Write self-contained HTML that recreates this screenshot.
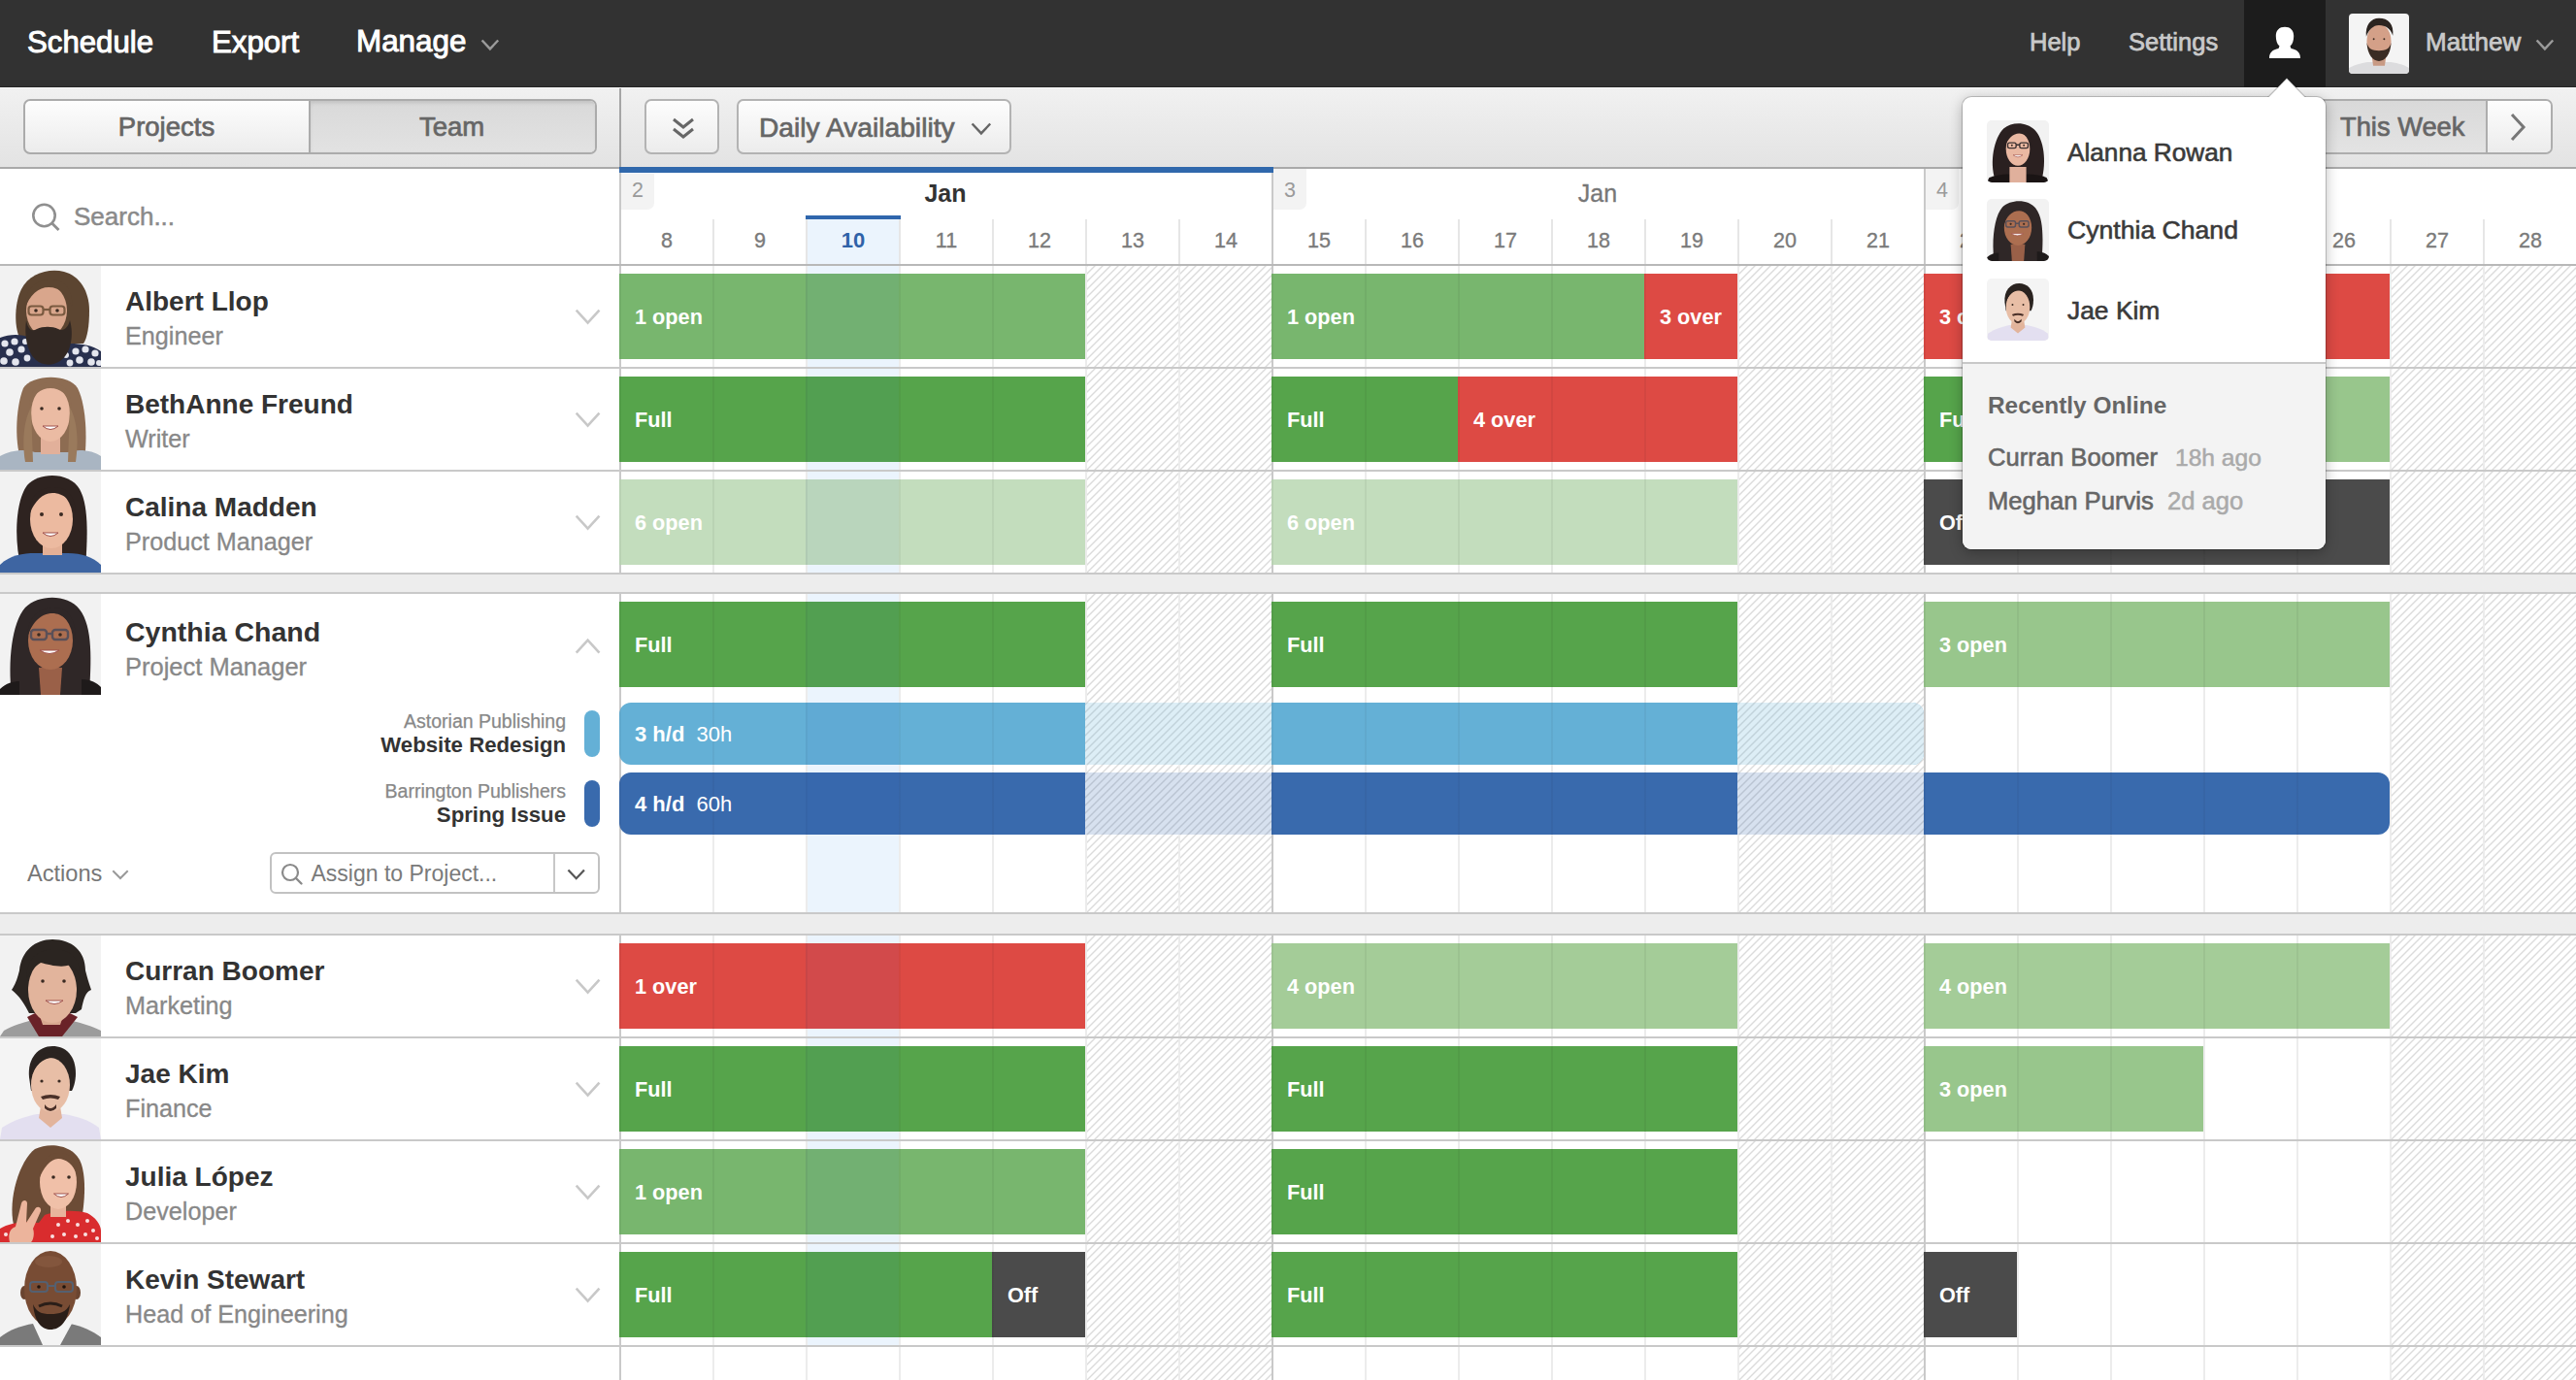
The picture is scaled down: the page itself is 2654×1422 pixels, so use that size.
<!DOCTYPE html><html><head><meta charset="utf-8"><style>
*{margin:0;padding:0;box-sizing:border-box}
html,body{width:2654px;height:1422px;overflow:hidden;background:#fff;font-family:"Liberation Sans",sans-serif}
.a{position:absolute}
.t{position:absolute;white-space:nowrap}
svg.a{overflow:visible}
</style></head><body>
<div class="a" style="left:0px;top:274px;width:638px;height:104px;background:#fff"></div>
<div class="a" style="left:830px;top:274px;width:96px;height:104px;background:#ebf4fd"></div>
<div class="a" style="left:1118px;top:274px;width:96px;height:104px;background-color:#fff;background-image:repeating-linear-gradient(-45deg,rgba(255,255,255,0) 0px,rgba(255,255,255,0) 3.3px,#dbdbdb 3.8px,#dbdbdb 4.7px,rgba(255,255,255,0) 5.2px,rgba(255,255,255,0) 5.657px);"></div>
<div class="a" style="left:1214px;top:274px;width:96px;height:104px;background-color:#fff;background-image:repeating-linear-gradient(-45deg,rgba(255,255,255,0) 0px,rgba(255,255,255,0) 3.3px,#dbdbdb 3.8px,#dbdbdb 4.7px,rgba(255,255,255,0) 5.2px,rgba(255,255,255,0) 5.657px);"></div>
<div class="a" style="left:1790px;top:274px;width:96px;height:104px;background-color:#fff;background-image:repeating-linear-gradient(-45deg,rgba(255,255,255,0) 0px,rgba(255,255,255,0) 3.3px,#dbdbdb 3.8px,#dbdbdb 4.7px,rgba(255,255,255,0) 5.2px,rgba(255,255,255,0) 5.657px);"></div>
<div class="a" style="left:1886px;top:274px;width:96px;height:104px;background-color:#fff;background-image:repeating-linear-gradient(-45deg,rgba(255,255,255,0) 0px,rgba(255,255,255,0) 3.3px,#dbdbdb 3.8px,#dbdbdb 4.7px,rgba(255,255,255,0) 5.2px,rgba(255,255,255,0) 5.657px);"></div>
<div class="a" style="left:2462px;top:274px;width:96px;height:104px;background-color:#fff;background-image:repeating-linear-gradient(-45deg,rgba(255,255,255,0) 0px,rgba(255,255,255,0) 3.3px,#dbdbdb 3.8px,#dbdbdb 4.7px,rgba(255,255,255,0) 5.2px,rgba(255,255,255,0) 5.657px);"></div>
<div class="a" style="left:2558px;top:274px;width:96px;height:104px;background-color:#fff;background-image:repeating-linear-gradient(-45deg,rgba(255,255,255,0) 0px,rgba(255,255,255,0) 3.3px,#dbdbdb 3.8px,#dbdbdb 4.7px,rgba(255,255,255,0) 5.2px,rgba(255,255,255,0) 5.657px);"></div>
<div class="a" style="left:734px;top:274px;width:2px;height:104px;background:#ececec"></div>
<div class="a" style="left:830px;top:274px;width:2px;height:104px;background:#ececec"></div>
<div class="a" style="left:926px;top:274px;width:2px;height:104px;background:#ececec"></div>
<div class="a" style="left:1022px;top:274px;width:2px;height:104px;background:#ececec"></div>
<div class="a" style="left:1118px;top:274px;width:2px;height:104px;background:#ececec"></div>
<div class="a" style="left:1214px;top:274px;width:2px;height:104px;background:#ececec"></div>
<div class="a" style="left:1406px;top:274px;width:2px;height:104px;background:#ececec"></div>
<div class="a" style="left:1502px;top:274px;width:2px;height:104px;background:#ececec"></div>
<div class="a" style="left:1598px;top:274px;width:2px;height:104px;background:#ececec"></div>
<div class="a" style="left:1694px;top:274px;width:2px;height:104px;background:#ececec"></div>
<div class="a" style="left:1790px;top:274px;width:2px;height:104px;background:#ececec"></div>
<div class="a" style="left:1886px;top:274px;width:2px;height:104px;background:#ececec"></div>
<div class="a" style="left:2078px;top:274px;width:2px;height:104px;background:#ececec"></div>
<div class="a" style="left:2174px;top:274px;width:2px;height:104px;background:#ececec"></div>
<div class="a" style="left:2270px;top:274px;width:2px;height:104px;background:#ececec"></div>
<div class="a" style="left:2366px;top:274px;width:2px;height:104px;background:#ececec"></div>
<div class="a" style="left:2462px;top:274px;width:2px;height:104px;background:#ececec"></div>
<div class="a" style="left:2558px;top:274px;width:2px;height:104px;background:#ececec"></div>
<div class="a" style="left:0px;top:378px;width:2654px;height:2px;background:#c9c9c9"></div>
<div class="a" style="left:0px;top:380px;width:638px;height:104px;background:#fff"></div>
<div class="a" style="left:830px;top:380px;width:96px;height:104px;background:#ebf4fd"></div>
<div class="a" style="left:1118px;top:380px;width:96px;height:104px;background-color:#fff;background-image:repeating-linear-gradient(-45deg,rgba(255,255,255,0) 0px,rgba(255,255,255,0) 3.3px,#dbdbdb 3.8px,#dbdbdb 4.7px,rgba(255,255,255,0) 5.2px,rgba(255,255,255,0) 5.657px);"></div>
<div class="a" style="left:1214px;top:380px;width:96px;height:104px;background-color:#fff;background-image:repeating-linear-gradient(-45deg,rgba(255,255,255,0) 0px,rgba(255,255,255,0) 3.3px,#dbdbdb 3.8px,#dbdbdb 4.7px,rgba(255,255,255,0) 5.2px,rgba(255,255,255,0) 5.657px);"></div>
<div class="a" style="left:1790px;top:380px;width:96px;height:104px;background-color:#fff;background-image:repeating-linear-gradient(-45deg,rgba(255,255,255,0) 0px,rgba(255,255,255,0) 3.3px,#dbdbdb 3.8px,#dbdbdb 4.7px,rgba(255,255,255,0) 5.2px,rgba(255,255,255,0) 5.657px);"></div>
<div class="a" style="left:1886px;top:380px;width:96px;height:104px;background-color:#fff;background-image:repeating-linear-gradient(-45deg,rgba(255,255,255,0) 0px,rgba(255,255,255,0) 3.3px,#dbdbdb 3.8px,#dbdbdb 4.7px,rgba(255,255,255,0) 5.2px,rgba(255,255,255,0) 5.657px);"></div>
<div class="a" style="left:2462px;top:380px;width:96px;height:104px;background-color:#fff;background-image:repeating-linear-gradient(-45deg,rgba(255,255,255,0) 0px,rgba(255,255,255,0) 3.3px,#dbdbdb 3.8px,#dbdbdb 4.7px,rgba(255,255,255,0) 5.2px,rgba(255,255,255,0) 5.657px);"></div>
<div class="a" style="left:2558px;top:380px;width:96px;height:104px;background-color:#fff;background-image:repeating-linear-gradient(-45deg,rgba(255,255,255,0) 0px,rgba(255,255,255,0) 3.3px,#dbdbdb 3.8px,#dbdbdb 4.7px,rgba(255,255,255,0) 5.2px,rgba(255,255,255,0) 5.657px);"></div>
<div class="a" style="left:734px;top:380px;width:2px;height:104px;background:#ececec"></div>
<div class="a" style="left:830px;top:380px;width:2px;height:104px;background:#ececec"></div>
<div class="a" style="left:926px;top:380px;width:2px;height:104px;background:#ececec"></div>
<div class="a" style="left:1022px;top:380px;width:2px;height:104px;background:#ececec"></div>
<div class="a" style="left:1118px;top:380px;width:2px;height:104px;background:#ececec"></div>
<div class="a" style="left:1214px;top:380px;width:2px;height:104px;background:#ececec"></div>
<div class="a" style="left:1406px;top:380px;width:2px;height:104px;background:#ececec"></div>
<div class="a" style="left:1502px;top:380px;width:2px;height:104px;background:#ececec"></div>
<div class="a" style="left:1598px;top:380px;width:2px;height:104px;background:#ececec"></div>
<div class="a" style="left:1694px;top:380px;width:2px;height:104px;background:#ececec"></div>
<div class="a" style="left:1790px;top:380px;width:2px;height:104px;background:#ececec"></div>
<div class="a" style="left:1886px;top:380px;width:2px;height:104px;background:#ececec"></div>
<div class="a" style="left:2078px;top:380px;width:2px;height:104px;background:#ececec"></div>
<div class="a" style="left:2174px;top:380px;width:2px;height:104px;background:#ececec"></div>
<div class="a" style="left:2270px;top:380px;width:2px;height:104px;background:#ececec"></div>
<div class="a" style="left:2366px;top:380px;width:2px;height:104px;background:#ececec"></div>
<div class="a" style="left:2462px;top:380px;width:2px;height:104px;background:#ececec"></div>
<div class="a" style="left:2558px;top:380px;width:2px;height:104px;background:#ececec"></div>
<div class="a" style="left:0px;top:484px;width:2654px;height:2px;background:#c9c9c9"></div>
<div class="a" style="left:0px;top:486px;width:638px;height:104px;background:#fff"></div>
<div class="a" style="left:830px;top:486px;width:96px;height:104px;background:#ebf4fd"></div>
<div class="a" style="left:1118px;top:486px;width:96px;height:104px;background-color:#fff;background-image:repeating-linear-gradient(-45deg,rgba(255,255,255,0) 0px,rgba(255,255,255,0) 3.3px,#dbdbdb 3.8px,#dbdbdb 4.7px,rgba(255,255,255,0) 5.2px,rgba(255,255,255,0) 5.657px);"></div>
<div class="a" style="left:1214px;top:486px;width:96px;height:104px;background-color:#fff;background-image:repeating-linear-gradient(-45deg,rgba(255,255,255,0) 0px,rgba(255,255,255,0) 3.3px,#dbdbdb 3.8px,#dbdbdb 4.7px,rgba(255,255,255,0) 5.2px,rgba(255,255,255,0) 5.657px);"></div>
<div class="a" style="left:1790px;top:486px;width:96px;height:104px;background-color:#fff;background-image:repeating-linear-gradient(-45deg,rgba(255,255,255,0) 0px,rgba(255,255,255,0) 3.3px,#dbdbdb 3.8px,#dbdbdb 4.7px,rgba(255,255,255,0) 5.2px,rgba(255,255,255,0) 5.657px);"></div>
<div class="a" style="left:1886px;top:486px;width:96px;height:104px;background-color:#fff;background-image:repeating-linear-gradient(-45deg,rgba(255,255,255,0) 0px,rgba(255,255,255,0) 3.3px,#dbdbdb 3.8px,#dbdbdb 4.7px,rgba(255,255,255,0) 5.2px,rgba(255,255,255,0) 5.657px);"></div>
<div class="a" style="left:2462px;top:486px;width:96px;height:104px;background-color:#fff;background-image:repeating-linear-gradient(-45deg,rgba(255,255,255,0) 0px,rgba(255,255,255,0) 3.3px,#dbdbdb 3.8px,#dbdbdb 4.7px,rgba(255,255,255,0) 5.2px,rgba(255,255,255,0) 5.657px);"></div>
<div class="a" style="left:2558px;top:486px;width:96px;height:104px;background-color:#fff;background-image:repeating-linear-gradient(-45deg,rgba(255,255,255,0) 0px,rgba(255,255,255,0) 3.3px,#dbdbdb 3.8px,#dbdbdb 4.7px,rgba(255,255,255,0) 5.2px,rgba(255,255,255,0) 5.657px);"></div>
<div class="a" style="left:734px;top:486px;width:2px;height:104px;background:#ececec"></div>
<div class="a" style="left:830px;top:486px;width:2px;height:104px;background:#ececec"></div>
<div class="a" style="left:926px;top:486px;width:2px;height:104px;background:#ececec"></div>
<div class="a" style="left:1022px;top:486px;width:2px;height:104px;background:#ececec"></div>
<div class="a" style="left:1118px;top:486px;width:2px;height:104px;background:#ececec"></div>
<div class="a" style="left:1214px;top:486px;width:2px;height:104px;background:#ececec"></div>
<div class="a" style="left:1406px;top:486px;width:2px;height:104px;background:#ececec"></div>
<div class="a" style="left:1502px;top:486px;width:2px;height:104px;background:#ececec"></div>
<div class="a" style="left:1598px;top:486px;width:2px;height:104px;background:#ececec"></div>
<div class="a" style="left:1694px;top:486px;width:2px;height:104px;background:#ececec"></div>
<div class="a" style="left:1790px;top:486px;width:2px;height:104px;background:#ececec"></div>
<div class="a" style="left:1886px;top:486px;width:2px;height:104px;background:#ececec"></div>
<div class="a" style="left:2078px;top:486px;width:2px;height:104px;background:#ececec"></div>
<div class="a" style="left:2174px;top:486px;width:2px;height:104px;background:#ececec"></div>
<div class="a" style="left:2270px;top:486px;width:2px;height:104px;background:#ececec"></div>
<div class="a" style="left:2366px;top:486px;width:2px;height:104px;background:#ececec"></div>
<div class="a" style="left:2462px;top:486px;width:2px;height:104px;background:#ececec"></div>
<div class="a" style="left:2558px;top:486px;width:2px;height:104px;background:#ececec"></div>
<div class="a" style="left:0px;top:590px;width:2654px;height:2px;background:#c9c9c9"></div>
<div class="a" style="left:0px;top:592px;width:2654px;height:18px;background:#ededed"></div>
<div class="a" style="left:0px;top:610px;width:2654px;height:2px;background:#c9c9c9"></div>
<div class="a" style="left:0px;top:612px;width:638px;height:328px;background:#fff"></div>
<div class="a" style="left:830px;top:612px;width:96px;height:328px;background:#ebf4fd"></div>
<div class="a" style="left:1118px;top:612px;width:96px;height:328px;background-color:#fff;background-image:repeating-linear-gradient(-45deg,rgba(255,255,255,0) 0px,rgba(255,255,255,0) 3.3px,#dbdbdb 3.8px,#dbdbdb 4.7px,rgba(255,255,255,0) 5.2px,rgba(255,255,255,0) 5.657px);"></div>
<div class="a" style="left:1214px;top:612px;width:96px;height:328px;background-color:#fff;background-image:repeating-linear-gradient(-45deg,rgba(255,255,255,0) 0px,rgba(255,255,255,0) 3.3px,#dbdbdb 3.8px,#dbdbdb 4.7px,rgba(255,255,255,0) 5.2px,rgba(255,255,255,0) 5.657px);"></div>
<div class="a" style="left:1790px;top:612px;width:96px;height:328px;background-color:#fff;background-image:repeating-linear-gradient(-45deg,rgba(255,255,255,0) 0px,rgba(255,255,255,0) 3.3px,#dbdbdb 3.8px,#dbdbdb 4.7px,rgba(255,255,255,0) 5.2px,rgba(255,255,255,0) 5.657px);"></div>
<div class="a" style="left:1886px;top:612px;width:96px;height:328px;background-color:#fff;background-image:repeating-linear-gradient(-45deg,rgba(255,255,255,0) 0px,rgba(255,255,255,0) 3.3px,#dbdbdb 3.8px,#dbdbdb 4.7px,rgba(255,255,255,0) 5.2px,rgba(255,255,255,0) 5.657px);"></div>
<div class="a" style="left:2462px;top:612px;width:96px;height:328px;background-color:#fff;background-image:repeating-linear-gradient(-45deg,rgba(255,255,255,0) 0px,rgba(255,255,255,0) 3.3px,#dbdbdb 3.8px,#dbdbdb 4.7px,rgba(255,255,255,0) 5.2px,rgba(255,255,255,0) 5.657px);"></div>
<div class="a" style="left:2558px;top:612px;width:96px;height:328px;background-color:#fff;background-image:repeating-linear-gradient(-45deg,rgba(255,255,255,0) 0px,rgba(255,255,255,0) 3.3px,#dbdbdb 3.8px,#dbdbdb 4.7px,rgba(255,255,255,0) 5.2px,rgba(255,255,255,0) 5.657px);"></div>
<div class="a" style="left:734px;top:612px;width:2px;height:328px;background:#ececec"></div>
<div class="a" style="left:830px;top:612px;width:2px;height:328px;background:#ececec"></div>
<div class="a" style="left:926px;top:612px;width:2px;height:328px;background:#ececec"></div>
<div class="a" style="left:1022px;top:612px;width:2px;height:328px;background:#ececec"></div>
<div class="a" style="left:1118px;top:612px;width:2px;height:328px;background:#ececec"></div>
<div class="a" style="left:1214px;top:612px;width:2px;height:328px;background:#ececec"></div>
<div class="a" style="left:1406px;top:612px;width:2px;height:328px;background:#ececec"></div>
<div class="a" style="left:1502px;top:612px;width:2px;height:328px;background:#ececec"></div>
<div class="a" style="left:1598px;top:612px;width:2px;height:328px;background:#ececec"></div>
<div class="a" style="left:1694px;top:612px;width:2px;height:328px;background:#ececec"></div>
<div class="a" style="left:1790px;top:612px;width:2px;height:328px;background:#ececec"></div>
<div class="a" style="left:1886px;top:612px;width:2px;height:328px;background:#ececec"></div>
<div class="a" style="left:2078px;top:612px;width:2px;height:328px;background:#ececec"></div>
<div class="a" style="left:2174px;top:612px;width:2px;height:328px;background:#ececec"></div>
<div class="a" style="left:2270px;top:612px;width:2px;height:328px;background:#ececec"></div>
<div class="a" style="left:2366px;top:612px;width:2px;height:328px;background:#ececec"></div>
<div class="a" style="left:2462px;top:612px;width:2px;height:328px;background:#ececec"></div>
<div class="a" style="left:2558px;top:612px;width:2px;height:328px;background:#ececec"></div>
<div class="a" style="left:0px;top:940px;width:2654px;height:2px;background:#c9c9c9"></div>
<div class="a" style="left:0px;top:942px;width:2654px;height:20px;background:#ededed"></div>
<div class="a" style="left:0px;top:962px;width:2654px;height:2px;background:#c9c9c9"></div>
<div class="a" style="left:0px;top:964px;width:638px;height:104px;background:#fff"></div>
<div class="a" style="left:830px;top:964px;width:96px;height:104px;background:#ebf4fd"></div>
<div class="a" style="left:1118px;top:964px;width:96px;height:104px;background-color:#fff;background-image:repeating-linear-gradient(-45deg,rgba(255,255,255,0) 0px,rgba(255,255,255,0) 3.3px,#dbdbdb 3.8px,#dbdbdb 4.7px,rgba(255,255,255,0) 5.2px,rgba(255,255,255,0) 5.657px);"></div>
<div class="a" style="left:1214px;top:964px;width:96px;height:104px;background-color:#fff;background-image:repeating-linear-gradient(-45deg,rgba(255,255,255,0) 0px,rgba(255,255,255,0) 3.3px,#dbdbdb 3.8px,#dbdbdb 4.7px,rgba(255,255,255,0) 5.2px,rgba(255,255,255,0) 5.657px);"></div>
<div class="a" style="left:1790px;top:964px;width:96px;height:104px;background-color:#fff;background-image:repeating-linear-gradient(-45deg,rgba(255,255,255,0) 0px,rgba(255,255,255,0) 3.3px,#dbdbdb 3.8px,#dbdbdb 4.7px,rgba(255,255,255,0) 5.2px,rgba(255,255,255,0) 5.657px);"></div>
<div class="a" style="left:1886px;top:964px;width:96px;height:104px;background-color:#fff;background-image:repeating-linear-gradient(-45deg,rgba(255,255,255,0) 0px,rgba(255,255,255,0) 3.3px,#dbdbdb 3.8px,#dbdbdb 4.7px,rgba(255,255,255,0) 5.2px,rgba(255,255,255,0) 5.657px);"></div>
<div class="a" style="left:2462px;top:964px;width:96px;height:104px;background-color:#fff;background-image:repeating-linear-gradient(-45deg,rgba(255,255,255,0) 0px,rgba(255,255,255,0) 3.3px,#dbdbdb 3.8px,#dbdbdb 4.7px,rgba(255,255,255,0) 5.2px,rgba(255,255,255,0) 5.657px);"></div>
<div class="a" style="left:2558px;top:964px;width:96px;height:104px;background-color:#fff;background-image:repeating-linear-gradient(-45deg,rgba(255,255,255,0) 0px,rgba(255,255,255,0) 3.3px,#dbdbdb 3.8px,#dbdbdb 4.7px,rgba(255,255,255,0) 5.2px,rgba(255,255,255,0) 5.657px);"></div>
<div class="a" style="left:734px;top:964px;width:2px;height:104px;background:#ececec"></div>
<div class="a" style="left:830px;top:964px;width:2px;height:104px;background:#ececec"></div>
<div class="a" style="left:926px;top:964px;width:2px;height:104px;background:#ececec"></div>
<div class="a" style="left:1022px;top:964px;width:2px;height:104px;background:#ececec"></div>
<div class="a" style="left:1118px;top:964px;width:2px;height:104px;background:#ececec"></div>
<div class="a" style="left:1214px;top:964px;width:2px;height:104px;background:#ececec"></div>
<div class="a" style="left:1406px;top:964px;width:2px;height:104px;background:#ececec"></div>
<div class="a" style="left:1502px;top:964px;width:2px;height:104px;background:#ececec"></div>
<div class="a" style="left:1598px;top:964px;width:2px;height:104px;background:#ececec"></div>
<div class="a" style="left:1694px;top:964px;width:2px;height:104px;background:#ececec"></div>
<div class="a" style="left:1790px;top:964px;width:2px;height:104px;background:#ececec"></div>
<div class="a" style="left:1886px;top:964px;width:2px;height:104px;background:#ececec"></div>
<div class="a" style="left:2078px;top:964px;width:2px;height:104px;background:#ececec"></div>
<div class="a" style="left:2174px;top:964px;width:2px;height:104px;background:#ececec"></div>
<div class="a" style="left:2270px;top:964px;width:2px;height:104px;background:#ececec"></div>
<div class="a" style="left:2366px;top:964px;width:2px;height:104px;background:#ececec"></div>
<div class="a" style="left:2462px;top:964px;width:2px;height:104px;background:#ececec"></div>
<div class="a" style="left:2558px;top:964px;width:2px;height:104px;background:#ececec"></div>
<div class="a" style="left:0px;top:1068px;width:2654px;height:2px;background:#c9c9c9"></div>
<div class="a" style="left:0px;top:1070px;width:638px;height:104px;background:#fff"></div>
<div class="a" style="left:830px;top:1070px;width:96px;height:104px;background:#ebf4fd"></div>
<div class="a" style="left:1118px;top:1070px;width:96px;height:104px;background-color:#fff;background-image:repeating-linear-gradient(-45deg,rgba(255,255,255,0) 0px,rgba(255,255,255,0) 3.3px,#dbdbdb 3.8px,#dbdbdb 4.7px,rgba(255,255,255,0) 5.2px,rgba(255,255,255,0) 5.657px);"></div>
<div class="a" style="left:1214px;top:1070px;width:96px;height:104px;background-color:#fff;background-image:repeating-linear-gradient(-45deg,rgba(255,255,255,0) 0px,rgba(255,255,255,0) 3.3px,#dbdbdb 3.8px,#dbdbdb 4.7px,rgba(255,255,255,0) 5.2px,rgba(255,255,255,0) 5.657px);"></div>
<div class="a" style="left:1790px;top:1070px;width:96px;height:104px;background-color:#fff;background-image:repeating-linear-gradient(-45deg,rgba(255,255,255,0) 0px,rgba(255,255,255,0) 3.3px,#dbdbdb 3.8px,#dbdbdb 4.7px,rgba(255,255,255,0) 5.2px,rgba(255,255,255,0) 5.657px);"></div>
<div class="a" style="left:1886px;top:1070px;width:96px;height:104px;background-color:#fff;background-image:repeating-linear-gradient(-45deg,rgba(255,255,255,0) 0px,rgba(255,255,255,0) 3.3px,#dbdbdb 3.8px,#dbdbdb 4.7px,rgba(255,255,255,0) 5.2px,rgba(255,255,255,0) 5.657px);"></div>
<div class="a" style="left:2462px;top:1070px;width:96px;height:104px;background-color:#fff;background-image:repeating-linear-gradient(-45deg,rgba(255,255,255,0) 0px,rgba(255,255,255,0) 3.3px,#dbdbdb 3.8px,#dbdbdb 4.7px,rgba(255,255,255,0) 5.2px,rgba(255,255,255,0) 5.657px);"></div>
<div class="a" style="left:2558px;top:1070px;width:96px;height:104px;background-color:#fff;background-image:repeating-linear-gradient(-45deg,rgba(255,255,255,0) 0px,rgba(255,255,255,0) 3.3px,#dbdbdb 3.8px,#dbdbdb 4.7px,rgba(255,255,255,0) 5.2px,rgba(255,255,255,0) 5.657px);"></div>
<div class="a" style="left:734px;top:1070px;width:2px;height:104px;background:#ececec"></div>
<div class="a" style="left:830px;top:1070px;width:2px;height:104px;background:#ececec"></div>
<div class="a" style="left:926px;top:1070px;width:2px;height:104px;background:#ececec"></div>
<div class="a" style="left:1022px;top:1070px;width:2px;height:104px;background:#ececec"></div>
<div class="a" style="left:1118px;top:1070px;width:2px;height:104px;background:#ececec"></div>
<div class="a" style="left:1214px;top:1070px;width:2px;height:104px;background:#ececec"></div>
<div class="a" style="left:1406px;top:1070px;width:2px;height:104px;background:#ececec"></div>
<div class="a" style="left:1502px;top:1070px;width:2px;height:104px;background:#ececec"></div>
<div class="a" style="left:1598px;top:1070px;width:2px;height:104px;background:#ececec"></div>
<div class="a" style="left:1694px;top:1070px;width:2px;height:104px;background:#ececec"></div>
<div class="a" style="left:1790px;top:1070px;width:2px;height:104px;background:#ececec"></div>
<div class="a" style="left:1886px;top:1070px;width:2px;height:104px;background:#ececec"></div>
<div class="a" style="left:2078px;top:1070px;width:2px;height:104px;background:#ececec"></div>
<div class="a" style="left:2174px;top:1070px;width:2px;height:104px;background:#ececec"></div>
<div class="a" style="left:2270px;top:1070px;width:2px;height:104px;background:#ececec"></div>
<div class="a" style="left:2366px;top:1070px;width:2px;height:104px;background:#ececec"></div>
<div class="a" style="left:2462px;top:1070px;width:2px;height:104px;background:#ececec"></div>
<div class="a" style="left:2558px;top:1070px;width:2px;height:104px;background:#ececec"></div>
<div class="a" style="left:0px;top:1174px;width:2654px;height:2px;background:#c9c9c9"></div>
<div class="a" style="left:0px;top:1176px;width:638px;height:104px;background:#fff"></div>
<div class="a" style="left:830px;top:1176px;width:96px;height:104px;background:#ebf4fd"></div>
<div class="a" style="left:1118px;top:1176px;width:96px;height:104px;background-color:#fff;background-image:repeating-linear-gradient(-45deg,rgba(255,255,255,0) 0px,rgba(255,255,255,0) 3.3px,#dbdbdb 3.8px,#dbdbdb 4.7px,rgba(255,255,255,0) 5.2px,rgba(255,255,255,0) 5.657px);"></div>
<div class="a" style="left:1214px;top:1176px;width:96px;height:104px;background-color:#fff;background-image:repeating-linear-gradient(-45deg,rgba(255,255,255,0) 0px,rgba(255,255,255,0) 3.3px,#dbdbdb 3.8px,#dbdbdb 4.7px,rgba(255,255,255,0) 5.2px,rgba(255,255,255,0) 5.657px);"></div>
<div class="a" style="left:1790px;top:1176px;width:96px;height:104px;background-color:#fff;background-image:repeating-linear-gradient(-45deg,rgba(255,255,255,0) 0px,rgba(255,255,255,0) 3.3px,#dbdbdb 3.8px,#dbdbdb 4.7px,rgba(255,255,255,0) 5.2px,rgba(255,255,255,0) 5.657px);"></div>
<div class="a" style="left:1886px;top:1176px;width:96px;height:104px;background-color:#fff;background-image:repeating-linear-gradient(-45deg,rgba(255,255,255,0) 0px,rgba(255,255,255,0) 3.3px,#dbdbdb 3.8px,#dbdbdb 4.7px,rgba(255,255,255,0) 5.2px,rgba(255,255,255,0) 5.657px);"></div>
<div class="a" style="left:2462px;top:1176px;width:96px;height:104px;background-color:#fff;background-image:repeating-linear-gradient(-45deg,rgba(255,255,255,0) 0px,rgba(255,255,255,0) 3.3px,#dbdbdb 3.8px,#dbdbdb 4.7px,rgba(255,255,255,0) 5.2px,rgba(255,255,255,0) 5.657px);"></div>
<div class="a" style="left:2558px;top:1176px;width:96px;height:104px;background-color:#fff;background-image:repeating-linear-gradient(-45deg,rgba(255,255,255,0) 0px,rgba(255,255,255,0) 3.3px,#dbdbdb 3.8px,#dbdbdb 4.7px,rgba(255,255,255,0) 5.2px,rgba(255,255,255,0) 5.657px);"></div>
<div class="a" style="left:734px;top:1176px;width:2px;height:104px;background:#ececec"></div>
<div class="a" style="left:830px;top:1176px;width:2px;height:104px;background:#ececec"></div>
<div class="a" style="left:926px;top:1176px;width:2px;height:104px;background:#ececec"></div>
<div class="a" style="left:1022px;top:1176px;width:2px;height:104px;background:#ececec"></div>
<div class="a" style="left:1118px;top:1176px;width:2px;height:104px;background:#ececec"></div>
<div class="a" style="left:1214px;top:1176px;width:2px;height:104px;background:#ececec"></div>
<div class="a" style="left:1406px;top:1176px;width:2px;height:104px;background:#ececec"></div>
<div class="a" style="left:1502px;top:1176px;width:2px;height:104px;background:#ececec"></div>
<div class="a" style="left:1598px;top:1176px;width:2px;height:104px;background:#ececec"></div>
<div class="a" style="left:1694px;top:1176px;width:2px;height:104px;background:#ececec"></div>
<div class="a" style="left:1790px;top:1176px;width:2px;height:104px;background:#ececec"></div>
<div class="a" style="left:1886px;top:1176px;width:2px;height:104px;background:#ececec"></div>
<div class="a" style="left:2078px;top:1176px;width:2px;height:104px;background:#ececec"></div>
<div class="a" style="left:2174px;top:1176px;width:2px;height:104px;background:#ececec"></div>
<div class="a" style="left:2270px;top:1176px;width:2px;height:104px;background:#ececec"></div>
<div class="a" style="left:2366px;top:1176px;width:2px;height:104px;background:#ececec"></div>
<div class="a" style="left:2462px;top:1176px;width:2px;height:104px;background:#ececec"></div>
<div class="a" style="left:2558px;top:1176px;width:2px;height:104px;background:#ececec"></div>
<div class="a" style="left:0px;top:1280px;width:2654px;height:2px;background:#c9c9c9"></div>
<div class="a" style="left:0px;top:1282px;width:638px;height:104px;background:#fff"></div>
<div class="a" style="left:830px;top:1282px;width:96px;height:104px;background:#ebf4fd"></div>
<div class="a" style="left:1118px;top:1282px;width:96px;height:104px;background-color:#fff;background-image:repeating-linear-gradient(-45deg,rgba(255,255,255,0) 0px,rgba(255,255,255,0) 3.3px,#dbdbdb 3.8px,#dbdbdb 4.7px,rgba(255,255,255,0) 5.2px,rgba(255,255,255,0) 5.657px);"></div>
<div class="a" style="left:1214px;top:1282px;width:96px;height:104px;background-color:#fff;background-image:repeating-linear-gradient(-45deg,rgba(255,255,255,0) 0px,rgba(255,255,255,0) 3.3px,#dbdbdb 3.8px,#dbdbdb 4.7px,rgba(255,255,255,0) 5.2px,rgba(255,255,255,0) 5.657px);"></div>
<div class="a" style="left:1790px;top:1282px;width:96px;height:104px;background-color:#fff;background-image:repeating-linear-gradient(-45deg,rgba(255,255,255,0) 0px,rgba(255,255,255,0) 3.3px,#dbdbdb 3.8px,#dbdbdb 4.7px,rgba(255,255,255,0) 5.2px,rgba(255,255,255,0) 5.657px);"></div>
<div class="a" style="left:1886px;top:1282px;width:96px;height:104px;background-color:#fff;background-image:repeating-linear-gradient(-45deg,rgba(255,255,255,0) 0px,rgba(255,255,255,0) 3.3px,#dbdbdb 3.8px,#dbdbdb 4.7px,rgba(255,255,255,0) 5.2px,rgba(255,255,255,0) 5.657px);"></div>
<div class="a" style="left:2462px;top:1282px;width:96px;height:104px;background-color:#fff;background-image:repeating-linear-gradient(-45deg,rgba(255,255,255,0) 0px,rgba(255,255,255,0) 3.3px,#dbdbdb 3.8px,#dbdbdb 4.7px,rgba(255,255,255,0) 5.2px,rgba(255,255,255,0) 5.657px);"></div>
<div class="a" style="left:2558px;top:1282px;width:96px;height:104px;background-color:#fff;background-image:repeating-linear-gradient(-45deg,rgba(255,255,255,0) 0px,rgba(255,255,255,0) 3.3px,#dbdbdb 3.8px,#dbdbdb 4.7px,rgba(255,255,255,0) 5.2px,rgba(255,255,255,0) 5.657px);"></div>
<div class="a" style="left:734px;top:1282px;width:2px;height:104px;background:#ececec"></div>
<div class="a" style="left:830px;top:1282px;width:2px;height:104px;background:#ececec"></div>
<div class="a" style="left:926px;top:1282px;width:2px;height:104px;background:#ececec"></div>
<div class="a" style="left:1022px;top:1282px;width:2px;height:104px;background:#ececec"></div>
<div class="a" style="left:1118px;top:1282px;width:2px;height:104px;background:#ececec"></div>
<div class="a" style="left:1214px;top:1282px;width:2px;height:104px;background:#ececec"></div>
<div class="a" style="left:1406px;top:1282px;width:2px;height:104px;background:#ececec"></div>
<div class="a" style="left:1502px;top:1282px;width:2px;height:104px;background:#ececec"></div>
<div class="a" style="left:1598px;top:1282px;width:2px;height:104px;background:#ececec"></div>
<div class="a" style="left:1694px;top:1282px;width:2px;height:104px;background:#ececec"></div>
<div class="a" style="left:1790px;top:1282px;width:2px;height:104px;background:#ececec"></div>
<div class="a" style="left:1886px;top:1282px;width:2px;height:104px;background:#ececec"></div>
<div class="a" style="left:2078px;top:1282px;width:2px;height:104px;background:#ececec"></div>
<div class="a" style="left:2174px;top:1282px;width:2px;height:104px;background:#ececec"></div>
<div class="a" style="left:2270px;top:1282px;width:2px;height:104px;background:#ececec"></div>
<div class="a" style="left:2366px;top:1282px;width:2px;height:104px;background:#ececec"></div>
<div class="a" style="left:2462px;top:1282px;width:2px;height:104px;background:#ececec"></div>
<div class="a" style="left:2558px;top:1282px;width:2px;height:104px;background:#ececec"></div>
<div class="a" style="left:0px;top:1386px;width:2654px;height:2px;background:#c9c9c9"></div>
<div class="a" style="left:0px;top:1388px;width:638px;height:34px;background:#fff"></div>
<div class="a" style="left:1118px;top:1388px;width:96px;height:34px;background-color:#fff;background-image:repeating-linear-gradient(-45deg,rgba(255,255,255,0) 0px,rgba(255,255,255,0) 3.3px,#dbdbdb 3.8px,#dbdbdb 4.7px,rgba(255,255,255,0) 5.2px,rgba(255,255,255,0) 5.657px);"></div>
<div class="a" style="left:1214px;top:1388px;width:96px;height:34px;background-color:#fff;background-image:repeating-linear-gradient(-45deg,rgba(255,255,255,0) 0px,rgba(255,255,255,0) 3.3px,#dbdbdb 3.8px,#dbdbdb 4.7px,rgba(255,255,255,0) 5.2px,rgba(255,255,255,0) 5.657px);"></div>
<div class="a" style="left:1790px;top:1388px;width:96px;height:34px;background-color:#fff;background-image:repeating-linear-gradient(-45deg,rgba(255,255,255,0) 0px,rgba(255,255,255,0) 3.3px,#dbdbdb 3.8px,#dbdbdb 4.7px,rgba(255,255,255,0) 5.2px,rgba(255,255,255,0) 5.657px);"></div>
<div class="a" style="left:1886px;top:1388px;width:96px;height:34px;background-color:#fff;background-image:repeating-linear-gradient(-45deg,rgba(255,255,255,0) 0px,rgba(255,255,255,0) 3.3px,#dbdbdb 3.8px,#dbdbdb 4.7px,rgba(255,255,255,0) 5.2px,rgba(255,255,255,0) 5.657px);"></div>
<div class="a" style="left:2462px;top:1388px;width:96px;height:34px;background-color:#fff;background-image:repeating-linear-gradient(-45deg,rgba(255,255,255,0) 0px,rgba(255,255,255,0) 3.3px,#dbdbdb 3.8px,#dbdbdb 4.7px,rgba(255,255,255,0) 5.2px,rgba(255,255,255,0) 5.657px);"></div>
<div class="a" style="left:2558px;top:1388px;width:96px;height:34px;background-color:#fff;background-image:repeating-linear-gradient(-45deg,rgba(255,255,255,0) 0px,rgba(255,255,255,0) 3.3px,#dbdbdb 3.8px,#dbdbdb 4.7px,rgba(255,255,255,0) 5.2px,rgba(255,255,255,0) 5.657px);"></div>
<div class="a" style="left:734px;top:1388px;width:2px;height:34px;background:#ececec"></div>
<div class="a" style="left:830px;top:1388px;width:2px;height:34px;background:#ececec"></div>
<div class="a" style="left:926px;top:1388px;width:2px;height:34px;background:#ececec"></div>
<div class="a" style="left:1022px;top:1388px;width:2px;height:34px;background:#ececec"></div>
<div class="a" style="left:1118px;top:1388px;width:2px;height:34px;background:#ececec"></div>
<div class="a" style="left:1214px;top:1388px;width:2px;height:34px;background:#ececec"></div>
<div class="a" style="left:1406px;top:1388px;width:2px;height:34px;background:#ececec"></div>
<div class="a" style="left:1502px;top:1388px;width:2px;height:34px;background:#ececec"></div>
<div class="a" style="left:1598px;top:1388px;width:2px;height:34px;background:#ececec"></div>
<div class="a" style="left:1694px;top:1388px;width:2px;height:34px;background:#ececec"></div>
<div class="a" style="left:1790px;top:1388px;width:2px;height:34px;background:#ececec"></div>
<div class="a" style="left:1886px;top:1388px;width:2px;height:34px;background:#ececec"></div>
<div class="a" style="left:2078px;top:1388px;width:2px;height:34px;background:#ececec"></div>
<div class="a" style="left:2174px;top:1388px;width:2px;height:34px;background:#ececec"></div>
<div class="a" style="left:2270px;top:1388px;width:2px;height:34px;background:#ececec"></div>
<div class="a" style="left:2366px;top:1388px;width:2px;height:34px;background:#ececec"></div>
<div class="a" style="left:2462px;top:1388px;width:2px;height:34px;background:#ececec"></div>
<div class="a" style="left:2558px;top:1388px;width:2px;height:34px;background:#ececec"></div>
<div class="a" style="left:1310px;top:274px;width:2px;height:104px;background:#c9c9c9"></div>
<div class="a" style="left:1982px;top:274px;width:2px;height:104px;background:#c9c9c9"></div>
<div class="a" style="left:638px;top:274px;width:2px;height:104px;background:#c9c9c9"></div>
<div class="a" style="left:1310px;top:380px;width:2px;height:104px;background:#c9c9c9"></div>
<div class="a" style="left:1982px;top:380px;width:2px;height:104px;background:#c9c9c9"></div>
<div class="a" style="left:638px;top:380px;width:2px;height:104px;background:#c9c9c9"></div>
<div class="a" style="left:1310px;top:486px;width:2px;height:104px;background:#c9c9c9"></div>
<div class="a" style="left:1982px;top:486px;width:2px;height:104px;background:#c9c9c9"></div>
<div class="a" style="left:638px;top:486px;width:2px;height:104px;background:#c9c9c9"></div>
<div class="a" style="left:1310px;top:612px;width:2px;height:328px;background:#c9c9c9"></div>
<div class="a" style="left:1982px;top:612px;width:2px;height:328px;background:#c9c9c9"></div>
<div class="a" style="left:638px;top:612px;width:2px;height:328px;background:#c9c9c9"></div>
<div class="a" style="left:1310px;top:964px;width:2px;height:104px;background:#c9c9c9"></div>
<div class="a" style="left:1982px;top:964px;width:2px;height:104px;background:#c9c9c9"></div>
<div class="a" style="left:638px;top:964px;width:2px;height:104px;background:#c9c9c9"></div>
<div class="a" style="left:1310px;top:1070px;width:2px;height:104px;background:#c9c9c9"></div>
<div class="a" style="left:1982px;top:1070px;width:2px;height:104px;background:#c9c9c9"></div>
<div class="a" style="left:638px;top:1070px;width:2px;height:104px;background:#c9c9c9"></div>
<div class="a" style="left:1310px;top:1176px;width:2px;height:104px;background:#c9c9c9"></div>
<div class="a" style="left:1982px;top:1176px;width:2px;height:104px;background:#c9c9c9"></div>
<div class="a" style="left:638px;top:1176px;width:2px;height:104px;background:#c9c9c9"></div>
<div class="a" style="left:1310px;top:1282px;width:2px;height:104px;background:#c9c9c9"></div>
<div class="a" style="left:1982px;top:1282px;width:2px;height:104px;background:#c9c9c9"></div>
<div class="a" style="left:638px;top:1282px;width:2px;height:104px;background:#c9c9c9"></div>
<div class="a" style="left:1310px;top:1388px;width:2px;height:34px;background:#c9c9c9"></div>
<div class="a" style="left:1982px;top:1388px;width:2px;height:34px;background:#c9c9c9"></div>
<div class="a" style="left:638px;top:1388px;width:2px;height:34px;background:#c9c9c9"></div>
<div class="a" style="left:638px;top:282px;width:480px;height:88px;background:#78b66e;background-image:repeating-linear-gradient(90deg,rgba(0,0,0,0.05) 0 2px,rgba(0,0,0,0) 2px 96px)"><div class="a" style="left:192px;top:0;width:96px;height:88px;background:rgba(40,90,190,0.06)"></div></div>
<div class="t" style="left:654.0px;top:315.6px;font-size:21.7px;line-height:21.7px;color:#fff;font-weight:700;">1 open</div>
<div class="a" style="left:1310px;top:282px;width:384px;height:88px;background:#78b66e;background-image:repeating-linear-gradient(90deg,rgba(0,0,0,0.05) 0 2px,rgba(0,0,0,0) 2px 96px)"></div>
<div class="t" style="left:1326.0px;top:315.6px;font-size:21.7px;line-height:21.7px;color:#fff;font-weight:700;">1 open</div>
<div class="a" style="left:1694px;top:282px;width:96px;height:88px;background:#dd4a44;background-image:repeating-linear-gradient(90deg,rgba(0,0,0,0.05) 0 2px,rgba(0,0,0,0) 2px 96px)"></div>
<div class="t" style="left:1710.0px;top:315.6px;font-size:21.7px;line-height:21.7px;color:#fff;font-weight:700;">3 over</div>
<div class="a" style="left:1982px;top:282px;width:480px;height:88px;background:#dd4a44;background-image:repeating-linear-gradient(90deg,rgba(0,0,0,0.05) 0 2px,rgba(0,0,0,0) 2px 96px)"></div>
<div class="t" style="left:1998.0px;top:315.6px;font-size:21.7px;line-height:21.7px;color:#fff;font-weight:700;">3 over</div>
<div class="a" style="left:638px;top:388px;width:480px;height:88px;background:#56a44b;background-image:repeating-linear-gradient(90deg,rgba(0,0,0,0.05) 0 2px,rgba(0,0,0,0) 2px 96px)"><div class="a" style="left:192px;top:0;width:96px;height:88px;background:rgba(40,90,190,0.06)"></div></div>
<div class="t" style="left:654.0px;top:421.6px;font-size:21.7px;line-height:21.7px;color:#fff;font-weight:700;">Full</div>
<div class="a" style="left:1310px;top:388px;width:192px;height:88px;background:#56a44b;background-image:repeating-linear-gradient(90deg,rgba(0,0,0,0.05) 0 2px,rgba(0,0,0,0) 2px 96px)"></div>
<div class="t" style="left:1326.0px;top:421.6px;font-size:21.7px;line-height:21.7px;color:#fff;font-weight:700;">Full</div>
<div class="a" style="left:1502px;top:388px;width:288px;height:88px;background:#dd4a44;background-image:repeating-linear-gradient(90deg,rgba(0,0,0,0.05) 0 2px,rgba(0,0,0,0) 2px 96px)"></div>
<div class="t" style="left:1518.0px;top:421.6px;font-size:21.7px;line-height:21.7px;color:#fff;font-weight:700;">4 over</div>
<div class="a" style="left:1982px;top:388px;width:384px;height:88px;background:#56a44b;background-image:repeating-linear-gradient(90deg,rgba(0,0,0,0.05) 0 2px,rgba(0,0,0,0) 2px 96px)"></div>
<div class="t" style="left:1998.0px;top:421.6px;font-size:21.7px;line-height:21.7px;color:#fff;font-weight:700;">Full</div>
<div class="a" style="left:2366px;top:388px;width:96px;height:88px;background:#98c68c;background-image:repeating-linear-gradient(90deg,rgba(0,0,0,0.05) 0 2px,rgba(0,0,0,0) 2px 96px)"></div>
<div class="a" style="left:638px;top:494px;width:480px;height:88px;background:#c3ddbd;background-image:repeating-linear-gradient(90deg,rgba(0,0,0,0.05) 0 2px,rgba(0,0,0,0) 2px 96px)"><div class="a" style="left:192px;top:0;width:96px;height:88px;background:rgba(40,90,190,0.06)"></div></div>
<div class="t" style="left:654.0px;top:527.6px;font-size:21.7px;line-height:21.7px;color:#fff;font-weight:700;">6 open</div>
<div class="a" style="left:1310px;top:494px;width:480px;height:88px;background:#c3ddbd;background-image:repeating-linear-gradient(90deg,rgba(0,0,0,0.05) 0 2px,rgba(0,0,0,0) 2px 96px)"></div>
<div class="t" style="left:1326.0px;top:527.6px;font-size:21.7px;line-height:21.7px;color:#fff;font-weight:700;">6 open</div>
<div class="a" style="left:1982px;top:494px;width:480px;height:88px;background:#4b4b4b;background-image:repeating-linear-gradient(90deg,rgba(0,0,0,0.05) 0 2px,rgba(0,0,0,0) 2px 96px)"></div>
<div class="t" style="left:1998.0px;top:527.6px;font-size:21.7px;line-height:21.7px;color:#fff;font-weight:700;">Off</div>
<div class="a" style="left:638px;top:620px;width:480px;height:88px;background:#56a44b;background-image:repeating-linear-gradient(90deg,rgba(0,0,0,0.05) 0 2px,rgba(0,0,0,0) 2px 96px)"><div class="a" style="left:192px;top:0;width:96px;height:88px;background:rgba(40,90,190,0.06)"></div></div>
<div class="t" style="left:654.0px;top:653.6px;font-size:21.7px;line-height:21.7px;color:#fff;font-weight:700;">Full</div>
<div class="a" style="left:1310px;top:620px;width:480px;height:88px;background:#56a44b;background-image:repeating-linear-gradient(90deg,rgba(0,0,0,0.05) 0 2px,rgba(0,0,0,0) 2px 96px)"></div>
<div class="t" style="left:1326.0px;top:653.6px;font-size:21.7px;line-height:21.7px;color:#fff;font-weight:700;">Full</div>
<div class="a" style="left:1982px;top:620px;width:480px;height:88px;background:#98c68c;background-image:repeating-linear-gradient(90deg,rgba(0,0,0,0.05) 0 2px,rgba(0,0,0,0) 2px 96px)"></div>
<div class="t" style="left:1998.0px;top:653.6px;font-size:21.7px;line-height:21.7px;color:#fff;font-weight:700;">3 open</div>
<div class="a" style="left:638px;top:972px;width:480px;height:88px;background:#dd4a44;background-image:repeating-linear-gradient(90deg,rgba(0,0,0,0.05) 0 2px,rgba(0,0,0,0) 2px 96px)"><div class="a" style="left:192px;top:0;width:96px;height:88px;background:rgba(40,90,190,0.06)"></div></div>
<div class="t" style="left:654.0px;top:1005.6px;font-size:21.7px;line-height:21.7px;color:#fff;font-weight:700;">1 over</div>
<div class="a" style="left:1310px;top:972px;width:480px;height:88px;background:#a4cc98;background-image:repeating-linear-gradient(90deg,rgba(0,0,0,0.05) 0 2px,rgba(0,0,0,0) 2px 96px)"></div>
<div class="t" style="left:1326.0px;top:1005.6px;font-size:21.7px;line-height:21.7px;color:#fff;font-weight:700;">4 open</div>
<div class="a" style="left:1982px;top:972px;width:480px;height:88px;background:#a4cc98;background-image:repeating-linear-gradient(90deg,rgba(0,0,0,0.05) 0 2px,rgba(0,0,0,0) 2px 96px)"></div>
<div class="t" style="left:1998.0px;top:1005.6px;font-size:21.7px;line-height:21.7px;color:#fff;font-weight:700;">4 open</div>
<div class="a" style="left:638px;top:1078px;width:480px;height:88px;background:#56a44b;background-image:repeating-linear-gradient(90deg,rgba(0,0,0,0.05) 0 2px,rgba(0,0,0,0) 2px 96px)"><div class="a" style="left:192px;top:0;width:96px;height:88px;background:rgba(40,90,190,0.06)"></div></div>
<div class="t" style="left:654.0px;top:1111.6px;font-size:21.7px;line-height:21.7px;color:#fff;font-weight:700;">Full</div>
<div class="a" style="left:1310px;top:1078px;width:480px;height:88px;background:#56a44b;background-image:repeating-linear-gradient(90deg,rgba(0,0,0,0.05) 0 2px,rgba(0,0,0,0) 2px 96px)"></div>
<div class="t" style="left:1326.0px;top:1111.6px;font-size:21.7px;line-height:21.7px;color:#fff;font-weight:700;">Full</div>
<div class="a" style="left:1982px;top:1078px;width:288px;height:88px;background:#98c68c;background-image:repeating-linear-gradient(90deg,rgba(0,0,0,0.05) 0 2px,rgba(0,0,0,0) 2px 96px)"></div>
<div class="t" style="left:1998.0px;top:1111.6px;font-size:21.7px;line-height:21.7px;color:#fff;font-weight:700;">3 open</div>
<div class="a" style="left:638px;top:1184px;width:480px;height:88px;background:#78b66e;background-image:repeating-linear-gradient(90deg,rgba(0,0,0,0.05) 0 2px,rgba(0,0,0,0) 2px 96px)"><div class="a" style="left:192px;top:0;width:96px;height:88px;background:rgba(40,90,190,0.06)"></div></div>
<div class="t" style="left:654.0px;top:1217.6px;font-size:21.7px;line-height:21.7px;color:#fff;font-weight:700;">1 open</div>
<div class="a" style="left:1310px;top:1184px;width:480px;height:88px;background:#56a44b;background-image:repeating-linear-gradient(90deg,rgba(0,0,0,0.05) 0 2px,rgba(0,0,0,0) 2px 96px)"></div>
<div class="t" style="left:1326.0px;top:1217.6px;font-size:21.7px;line-height:21.7px;color:#fff;font-weight:700;">Full</div>
<div class="a" style="left:638px;top:1290px;width:384px;height:88px;background:#56a44b;background-image:repeating-linear-gradient(90deg,rgba(0,0,0,0.05) 0 2px,rgba(0,0,0,0) 2px 96px)"><div class="a" style="left:192px;top:0;width:96px;height:88px;background:rgba(40,90,190,0.06)"></div></div>
<div class="t" style="left:654.0px;top:1323.6px;font-size:21.7px;line-height:21.7px;color:#fff;font-weight:700;">Full</div>
<div class="a" style="left:1022px;top:1290px;width:96px;height:88px;background:#4b4b4b;background-image:repeating-linear-gradient(90deg,rgba(0,0,0,0.05) 0 2px,rgba(0,0,0,0) 2px 96px)"></div>
<div class="t" style="left:1038.0px;top:1323.6px;font-size:21.7px;line-height:21.7px;color:#fff;font-weight:700;">Off</div>
<div class="a" style="left:1310px;top:1290px;width:480px;height:88px;background:#56a44b;background-image:repeating-linear-gradient(90deg,rgba(0,0,0,0.05) 0 2px,rgba(0,0,0,0) 2px 96px)"></div>
<div class="t" style="left:1326.0px;top:1323.6px;font-size:21.7px;line-height:21.7px;color:#fff;font-weight:700;">Full</div>
<div class="a" style="left:1982px;top:1290px;width:96px;height:88px;background:#4b4b4b;background-image:repeating-linear-gradient(90deg,rgba(0,0,0,0.05) 0 2px,rgba(0,0,0,0) 2px 96px)"></div>
<div class="t" style="left:1998.0px;top:1323.6px;font-size:21.7px;line-height:21.7px;color:#fff;font-weight:700;">Off</div>
<div class="a" style="left:638px;top:724px;width:1344px;height:64px;border-radius:12px;background:#64b0d6;background-image:repeating-linear-gradient(90deg,rgba(0,0,0,0.045) 0 2px,rgba(0,0,0,0) 2px 96px);overflow:hidden"><div class="a" style="left:192px;top:0;width:96px;height:64px;background:rgba(40,90,190,0.06)"></div><div class="a" style="left:480px;top:0;width:192px;height:64px;background-color:#fff;background-image:repeating-linear-gradient(-45deg,rgba(255,255,255,0) 0px,rgba(255,255,255,0) 3.3px,#dbdbdb 3.8px,#dbdbdb 4.7px,rgba(255,255,255,0) 5.2px,rgba(255,255,255,0) 5.657px);"></div><div class="a" style="left:480px;top:0;width:192px;height:64px;background:rgba(100,176,214,0.22)"></div><div class="a" style="left:1152px;top:0;width:192px;height:64px;background-color:#fff;background-image:repeating-linear-gradient(-45deg,rgba(255,255,255,0) 0px,rgba(255,255,255,0) 3.3px,#dbdbdb 3.8px,#dbdbdb 4.7px,rgba(255,255,255,0) 5.2px,rgba(255,255,255,0) 5.657px);"></div><div class="a" style="left:1152px;top:0;width:192px;height:64px;background:rgba(100,176,214,0.22)"></div></div>
<div class="t" style="left:654.0px;top:746.3px;font-size:22px;line-height:22px;color:#fff;font-weight:400;"><b>3 h/d</b>&nbsp; 30h</div>
<div class="a" style="left:638px;top:796px;width:1824px;height:64px;border-radius:12px;background:#396aad;background-image:repeating-linear-gradient(90deg,rgba(0,0,0,0.045) 0 2px,rgba(0,0,0,0) 2px 96px);overflow:hidden"><div class="a" style="left:192px;top:0;width:96px;height:64px;background:rgba(40,90,190,0.06)"></div><div class="a" style="left:480px;top:0;width:192px;height:64px;background-color:#fff;background-image:repeating-linear-gradient(-45deg,rgba(255,255,255,0) 0px,rgba(255,255,255,0) 3.3px,#dbdbdb 3.8px,#dbdbdb 4.7px,rgba(255,255,255,0) 5.2px,rgba(255,255,255,0) 5.657px);"></div><div class="a" style="left:480px;top:0;width:192px;height:64px;background:rgba(57,106,173,0.2)"></div><div class="a" style="left:1152px;top:0;width:192px;height:64px;background-color:#fff;background-image:repeating-linear-gradient(-45deg,rgba(255,255,255,0) 0px,rgba(255,255,255,0) 3.3px,#dbdbdb 3.8px,#dbdbdb 4.7px,rgba(255,255,255,0) 5.2px,rgba(255,255,255,0) 5.657px);"></div><div class="a" style="left:1152px;top:0;width:192px;height:64px;background:rgba(57,106,173,0.2)"></div></div>
<div class="t" style="left:654.0px;top:818.3px;font-size:22px;line-height:22px;color:#fff;font-weight:400;"><b>4 h/d</b>&nbsp; 60h</div>
<svg class="a" style="left:0px;top:274px;overflow:hidden" width="104" height="104" viewBox="0 0 104 104"><rect width="104" height="104" fill="#f2f2f2"/><path d="M24 80 C14 70 14 40 22 24 C30 8 50 2 66 6 C82 10 92 26 92 46 C92 62 90 74 86 80 Z" fill="#5c4531"/><path d="M0 74 C10 70 22 70 32 74 L72 80 C84 80 96 82 104 88 L104 104 L0 104 Z" fill="#28304e"/><g fill="#e4e6ee"><circle cx="5" cy="80" r="3.6"/><circle cx="15" cy="78" r="3.6"/><circle cx="10" cy="89" r="3.8"/><circle cx="22" cy="86" r="3.6"/><circle cx="4" cy="98" r="3.8"/><circle cx="16" cy="99" r="3.8"/><circle cx="28" cy="95" r="3.4"/><circle cx="26" cy="78" r="3"/><circle cx="78" cy="88" r="3.6"/><circle cx="88" cy="86" r="3.6"/><circle cx="98" cy="90" r="3.6"/><circle cx="82" cy="97" r="3.8"/><circle cx="94" cy="99" r="3.8"/><circle cx="72" cy="100" r="3.4"/><circle cx="102" cy="100" r="3"/><circle cx="68" cy="92" r="3"/></g><ellipse cx="48" cy="46" rx="21" ry="27" fill="#d9a68c"/><path d="M27 56 C29 66 33 68 38 65 C44 62 54 62 60 65 C65 68 70 64 72 56 C76 70 74 90 62 98 C54 103 44 103 37 97 C27 88 25 70 27 56 Z" fill="#322823"/><path d="M26 44 C24 24 38 14 52 14 C66 14 76 24 74 42 C70 30 62 22 50 22 C40 22 30 30 26 44 Z" fill="#5c4531"/><rect x="29.5" y="41.5" width="15" height="9" rx="3" fill="none" stroke="#7a5a40" stroke-width="2.2"/><rect x="51.5" y="41.5" width="15" height="9" rx="3" fill="none" stroke="#7a5a40" stroke-width="2.2"/><path d="M44.5 45 L51.5 45" stroke="#7a5a40" stroke-width="2.2"/><circle cx="37" cy="46" r="1.8" fill="#3a2a22"/><circle cx="59" cy="46" r="1.8" fill="#3a2a22"/></svg>
<div class="t" style="left:129.0px;top:296.7px;font-size:28px;line-height:28px;color:#333;font-weight:700;">Albert Llop</div>
<div class="t" style="left:129.0px;top:334.1px;font-size:25.2px;line-height:25.2px;color:#888;font-weight:400;-webkit-text-stroke:0.3px #888;">Engineer</div>
<svg class="a" style="left:590.4px;top:316.2px" width="31.2" height="21.2" viewBox="590.4 316.2 31.2 21.2"><path d="M595.0,320.8 L606,332.8 L617.0,320.8" fill="none" stroke="#c8c8c8" stroke-width="2.6" stroke-linecap="square" stroke-linejoin="miter"/></svg>
<svg class="a" style="left:0px;top:380px;overflow:hidden" width="104" height="104" viewBox="0 0 104 104"><rect width="104" height="104" fill="#f2f2f2"/><path d="M24 100 C14 80 16 40 24 20 C32 6 70 4 80 20 C90 40 90 80 86 100 Z" fill="#8d6c52"/><path d="M0 90 C10 84 26 82 36 86 L70 86 C80 82 96 84 104 90 L104 104 L0 104 Z" fill="#a9b5c2"/><rect x="42" y="70" width="20" height="18" fill="#e2b09a"/><ellipse cx="52" cy="46" rx="20" ry="29" fill="#ebbba3"/><path d="M30 40 C30 22 40 14 52 14 C64 14 74 22 74 40 C70 26 62 20 52 20 C42 20 34 26 30 40 Z" fill="#8d6c52"/><path d="M26 96 C22 70 26 50 32 40 L34 96 Z M78 96 C82 70 78 50 72 40 L70 96 Z" fill="#9a7a5c"/><circle cx="43" cy="41" r="1.8" fill="#3a2a22"/><circle cx="61" cy="41" r="1.8" fill="#3a2a22"/><path d="M44.0 59 Q52 66 60.0 59 Z" fill="#fff" stroke="#a0504a" stroke-width="1"/></svg>
<div class="t" style="left:129.0px;top:402.7px;font-size:28px;line-height:28px;color:#333;font-weight:700;">BethAnne Freund</div>
<div class="t" style="left:129.0px;top:440.1px;font-size:25.2px;line-height:25.2px;color:#888;font-weight:400;-webkit-text-stroke:0.3px #888;">Writer</div>
<svg class="a" style="left:590.4px;top:422.2px" width="31.2" height="21.2" viewBox="590.4 422.2 31.2 21.2"><path d="M595.0,426.8 L606,438.8 L617.0,426.8" fill="none" stroke="#c8c8c8" stroke-width="2.6" stroke-linecap="square" stroke-linejoin="miter"/></svg>
<svg class="a" style="left:0px;top:486px;overflow:hidden" width="104" height="104" viewBox="0 0 104 104"><rect width="104" height="104" fill="#f2f2f2"/><path d="M22 100 C14 70 16 30 28 14 C40 0 72 0 82 18 C92 36 90 70 88 100 Z" fill="#2e2320"/><path d="M0 96 C10 86 24 84 36 84 L70 84 C84 84 96 88 104 96 L104 104 L0 104 Z" fill="#3e65a2"/><rect x="44" y="72" width="20" height="14" fill="#e4b096"/><ellipse cx="53" cy="49" rx="22" ry="30" fill="#ecbaa0"/><path d="M30 44 C30 24 42 16 56 16 C70 16 78 26 78 44 C74 28 64 22 54 22 C44 22 36 30 30 44 Z" fill="#2e2320"/><circle cx="43" cy="44" r="2" fill="#3a2a22"/><circle cx="63" cy="44" r="2" fill="#3a2a22"/><path d="M44.0 63 Q52 70 60.0 63 Z" fill="#fff" stroke="#a0504a" stroke-width="1"/></svg>
<div class="t" style="left:129.0px;top:508.7px;font-size:28px;line-height:28px;color:#333;font-weight:700;">Calina Madden</div>
<div class="t" style="left:129.0px;top:546.1px;font-size:25.2px;line-height:25.2px;color:#888;font-weight:400;-webkit-text-stroke:0.3px #888;">Product Manager</div>
<svg class="a" style="left:590.4px;top:528.1999999999999px" width="31.2" height="21.2" viewBox="590.4 528.1999999999999 31.2 21.2"><path d="M595.0,532.8 L606,544.8 L617.0,532.8" fill="none" stroke="#c8c8c8" stroke-width="2.6" stroke-linecap="square" stroke-linejoin="miter"/></svg>
<svg class="a" style="left:0px;top:612px;overflow:hidden" width="104" height="104" viewBox="0 0 104 104"><rect width="104" height="104" fill="#f2f2f2"/><path d="M12 104 C8 70 12 30 26 14 C40 0 70 0 82 16 C96 34 94 70 92 104 Z" fill="#2f2727"/><path d="M0 98 C6 92 14 90 20 90 L20 104 L0 104 Z M84 88 C94 88 100 92 104 96 L104 104 L84 104 Z" fill="#1e1a1a"/><path d="M40 76 L64 76 L62 104 L42 104 Z" fill="#9a6048"/><ellipse cx="52" cy="48" rx="23" ry="30" fill="#ac6e50"/><path d="M28 46 C28 22 42 14 56 14 C70 14 78 26 78 46 C74 28 64 20 54 20 C42 20 32 30 28 46 Z" fill="#2f2727"/><rect x="32.0" y="37.0" width="16" height="10" rx="3" fill="none" stroke="#5a5058" stroke-width="2.4"/><rect x="54.0" y="37.0" width="16" height="10" rx="3" fill="none" stroke="#5a5058" stroke-width="2.4"/><path d="M48.0 41 L54.0 41" stroke="#5a5058" stroke-width="2.4"/><circle cx="40" cy="42" r="1.8" fill="#3a2a22"/><circle cx="62" cy="42" r="1.8" fill="#3a2a22"/><path d="M41.0 58 Q51 65 61.0 58 Z" fill="#fff" stroke="#a0504a" stroke-width="1"/></svg>
<div class="t" style="left:129.0px;top:636.8px;font-size:28.5px;line-height:28.5px;color:#333;font-weight:700;">Cynthia Chand</div>
<div class="t" style="left:129.0px;top:675.3px;font-size:25.5px;line-height:25.5px;color:#888;font-weight:400;-webkit-text-stroke:0.3px #888;">Project Manager</div>
<svg class="a" style="left:590.4px;top:654.6999999999999px" width="31.2" height="21.2" viewBox="590.4 654.6999999999999 31.2 21.2"><path d="M595.0,671.3 L606,659.3 L617.0,671.3" fill="none" stroke="#c8c8c8" stroke-width="2.6" stroke-linecap="square" stroke-linejoin="miter"/></svg>
<svg class="a" style="left:0px;top:964px;overflow:hidden" width="104" height="104" viewBox="0 0 104 104"><rect width="104" height="104" fill="#f2f2f2"/><path d="M0 104 L4 98 C14 92 24 90 30 88 L74 88 C84 90 96 94 104 98 L104 104 Z" fill="#9c9c9c"/><path d="M28 84 L40 104 L64 104 L80 84 L72 80 L36 80 Z" fill="#6a2228"/><path d="M40 80 L66 80 L62 92 L44 92 Z" fill="#d8a890"/><path d="M12 56 C16 50 18 44 20 36 C22 16 36 4 54 4 C74 4 88 16 88 36 C90 44 92 50 94 56 C88 58 86 66 84 76 L78 80 L30 80 C26 72 20 62 12 56 Z" fill="#2b2521"/><ellipse cx="54" cy="56" rx="25" ry="34" fill="#e2b49c"/><path d="M28 44 C26 24 40 14 56 14 C72 14 84 24 82 44 C80 36 76 32 72 30 C64 34 50 30 42 28 C36 32 30 38 28 44 Z" fill="#2b2521"/><circle cx="44" cy="47" r="1.8" fill="#3a2a22"/><circle cx="66" cy="47" r="1.8" fill="#3a2a22"/><path d="M47.0 67 Q56 74 65.0 67 Z" fill="#fff" stroke="#a0504a" stroke-width="1"/></svg>
<div class="t" style="left:129.0px;top:986.7px;font-size:28px;line-height:28px;color:#333;font-weight:700;">Curran Boomer</div>
<div class="t" style="left:129.0px;top:1024.1px;font-size:25.2px;line-height:25.2px;color:#888;font-weight:400;-webkit-text-stroke:0.3px #888;">Marketing</div>
<svg class="a" style="left:590.4px;top:1006.1999999999999px" width="31.2" height="21.2" viewBox="590.4 1006.1999999999999 31.2 21.2"><path d="M595.0,1010.8 L606,1022.8 L617.0,1010.8" fill="none" stroke="#c8c8c8" stroke-width="2.6" stroke-linecap="square" stroke-linejoin="miter"/></svg>
<svg class="a" style="left:0px;top:1070px;overflow:hidden" width="104" height="104" viewBox="0 0 104 104"><rect width="104" height="104" fill="#f4f4f4"/><path d="M0 104 L2 92 C14 84 28 80 38 78 L66 78 C78 80 92 84 102 92 L104 104 Z" fill="#e3dff0"/><path d="M42 70 L62 70 L64 82 L52 92 L40 82 Z" fill="#e2b49c"/><path d="M30 40 C28 20 40 8 54 8 C68 8 78 18 78 36 C78 44 76 50 74 54 L32 54 Z" fill="#2a2320"/><ellipse cx="52" cy="48" rx="20" ry="28" fill="#e8bea6"/><path d="M32 40 C32 22 42 14 54 14 C66 14 74 22 74 38 C70 26 62 20 54 20 C44 20 36 28 32 40 Z" fill="#2a2320"/><path d="M42 60 Q52 56 62 60 L60 63 Q52 60 44 63 Z" fill="#4a3028"/><path d="M46 68 Q52 76 58 68 L58 72 Q52 78 46 72 Z" fill="#4a3028"/><circle cx="43" cy="44" r="1.6" fill="#3a2a22"/><circle cx="61" cy="44" r="1.6" fill="#3a2a22"/></svg>
<div class="t" style="left:129.0px;top:1092.7px;font-size:28px;line-height:28px;color:#333;font-weight:700;">Jae Kim</div>
<div class="t" style="left:129.0px;top:1130.1px;font-size:25.2px;line-height:25.2px;color:#888;font-weight:400;-webkit-text-stroke:0.3px #888;">Finance</div>
<svg class="a" style="left:590.4px;top:1112.2px" width="31.2" height="21.2" viewBox="590.4 1112.2 31.2 21.2"><path d="M595.0,1116.8 L606,1128.8 L617.0,1116.8" fill="none" stroke="#c8c8c8" stroke-width="2.6" stroke-linecap="square" stroke-linejoin="miter"/></svg>
<svg class="a" style="left:0px;top:1176px;overflow:hidden" width="104" height="104" viewBox="0 0 104 104"><rect width="104" height="104" fill="#f2f2f2"/><path d="M14 86 C8 60 20 20 36 8 C52 0 78 4 84 24 C90 44 86 72 82 92 L30 92 Z" fill="#6c4c36"/><path d="M0 104 L0 90 C10 84 24 82 40 84 L46 76 C58 72 76 70 90 74 C98 78 104 86 104 92 L104 104 Z" fill="#d92c2e"/><g fill="#fff" opacity="0.85"><circle cx="60" cy="86" r="2"/><circle cx="70" cy="82" r="2"/><circle cx="80" cy="86" r="2"/><circle cx="90" cy="82" r="2"/><circle cx="96" cy="92" r="2"/><circle cx="66" cy="96" r="2"/><circle cx="78" cy="98" r="2"/><circle cx="88" cy="96" r="2"/><circle cx="54" cy="98" r="2"/><circle cx="6" cy="96" r="2"/><circle cx="100" cy="100" r="2"/></g><path d="M52 64 L68 64 L68 78 L52 78 Z" fill="#e8b49c"/><ellipse cx="60" cy="42" rx="19" ry="28" fill="#f0c0a8"/><path d="M40 40 C40 20 50 12 62 12 C74 12 80 22 80 36 C76 24 68 18 60 18 C52 18 44 28 40 40 Z" fill="#6c4c36"/><path d="M10 104 C8 96 10 90 16 88 L22 64 C23 60 28 60 28 64 L27 84 L36 70 C38 66 43 68 42 72 L34 90 C36 96 34 102 32 104 Z" fill="#ecb49c"/><circle cx="55" cy="37" r="1.8" fill="#3a2a22"/><circle cx="71" cy="37" r="1.8" fill="#3a2a22"/><path d="M55.5 54 Q63 61 70.5 54 Z" fill="#fff" stroke="#a0504a" stroke-width="1"/></svg>
<div class="t" style="left:129.0px;top:1198.7px;font-size:28px;line-height:28px;color:#333;font-weight:700;">Julia L&oacute;pez</div>
<div class="t" style="left:129.0px;top:1236.1px;font-size:25.2px;line-height:25.2px;color:#888;font-weight:400;-webkit-text-stroke:0.3px #888;">Developer</div>
<svg class="a" style="left:590.4px;top:1218.2px" width="31.2" height="21.2" viewBox="590.4 1218.2 31.2 21.2"><path d="M595.0,1222.8 L606,1234.8 L617.0,1222.8" fill="none" stroke="#c8c8c8" stroke-width="2.6" stroke-linecap="square" stroke-linejoin="miter"/></svg>
<svg class="a" style="left:0px;top:1282px;overflow:hidden" width="104" height="104" viewBox="0 0 104 104"><rect width="104" height="104" fill="#f2f2f2"/><path d="M0 104 L0 96 C10 88 22 84 34 82 L72 82 C84 84 96 90 104 96 L104 104 Z" fill="#7a7a7a"/><path d="M34 82 L44 104 L62 104 L74 82 L66 78 L42 78 Z" fill="#f4f4f4"/><ellipse cx="25" cy="50" rx="4" ry="7" fill="#6a4430"/><ellipse cx="79" cy="50" rx="4" ry="7" fill="#6a4430"/><ellipse cx="52" cy="46" rx="27" ry="39" fill="#784c34"/><ellipse cx="50" cy="18" rx="14" ry="6" fill="#8a5e44" opacity="0.6"/><path d="M34 62 C36 82 44 88 52 88 C62 88 70 80 72 62 C68 70 62 72 52 72 C42 72 38 70 34 62 Z" fill="#2a1e18"/><path d="M40 64 Q52 58 64 64" fill="none" stroke="#2a1e18" stroke-width="3"/><rect x="31.0" y="39.0" width="18" height="10" rx="3" fill="none" stroke="#556070" stroke-width="2"/><rect x="57.0" y="39.0" width="18" height="10" rx="3" fill="none" stroke="#556070" stroke-width="2"/><path d="M49.0 43 L57.0 43" stroke="#556070" stroke-width="2"/><circle cx="40" cy="44" r="1.8" fill="#1e140e"/><circle cx="66" cy="44" r="1.8" fill="#1e140e"/></svg>
<div class="t" style="left:129.0px;top:1304.7px;font-size:28px;line-height:28px;color:#333;font-weight:700;">Kevin Stewart</div>
<div class="t" style="left:129.0px;top:1342.1px;font-size:25.2px;line-height:25.2px;color:#888;font-weight:400;-webkit-text-stroke:0.3px #888;">Head of Engineering</div>
<svg class="a" style="left:590.4px;top:1324.2px" width="31.2" height="21.2" viewBox="590.4 1324.2 31.2 21.2"><path d="M595.0,1328.8 L606,1340.8 L617.0,1328.8" fill="none" stroke="#c8c8c8" stroke-width="2.6" stroke-linecap="square" stroke-linejoin="miter"/></svg>
<div class="a" style="left:602px;top:732px;width:16px;height:48px;background:#64b0d6;border-radius:8px"></div>
<div class="a" style="left:602px;top:804px;width:16px;height:48px;background:#396aad;border-radius:8px"></div>
<div class="t" style="right:2071.0px;text-align:right;top:734.4px;font-size:19.5px;line-height:19.5px;color:#888;font-weight:400;-webkit-text-stroke:0.25px #888;">Astorian Publishing</div>
<div class="t" style="right:2071.0px;text-align:right;top:756.5px;font-size:22.2px;line-height:22.2px;color:#333;font-weight:700;">Website Redesign</div>
<div class="t" style="right:2071.0px;text-align:right;top:806.0px;font-size:19.5px;line-height:19.5px;color:#888;font-weight:400;-webkit-text-stroke:0.25px #888;">Barrington Publishers</div>
<div class="t" style="right:2071.0px;text-align:right;top:828.9px;font-size:22.2px;line-height:22.2px;color:#333;font-weight:700;">Spring Issue</div>
<div class="t" style="left:28.0px;top:888.7px;font-size:23.6px;line-height:23.6px;color:#777;font-weight:400;">Actions</div>
<svg class="a" style="left:113.0px;top:894.0px" width="22" height="15" viewBox="113.0 894.0 22 15"><path d="M117.0,898.0 L124,905.0 L131.0,898.0" fill="none" stroke="#999" stroke-width="2" stroke-linecap="square" stroke-linejoin="miter"/></svg>
<div class="a" style="left:278px;top:878px;width:340px;height:43px;border:2px solid #c2c2c2;border-radius:6px;background:#fff"></div>
<div class="a" style="left:570px;top:880px;width:2px;height:39px;background:#c8c8c8"></div>
<svg class="a" style="left:288px;top:888px" width="26" height="26" viewBox="0 0 26 26"><circle cx="11" cy="11" r="8" fill="none" stroke="#8a8a8a" stroke-width="2.2"/><path d="M17 17 L22.5 22.5" stroke="#8a8a8a" stroke-width="2.4" stroke-linecap="round"/></svg>
<div class="t" style="left:320.5px;top:889.2px;font-size:23px;line-height:23px;color:#7a7a7a;font-weight:400;">Assign to Project...</div>
<svg class="a" style="left:582.3px;top:893.3px" width="23.4" height="16.4" viewBox="582.3 893.3 23.4 16.4"><path d="M586.5,897.5 L594,905.5 L601.5,897.5" fill="none" stroke="#555" stroke-width="2.2" stroke-linecap="square" stroke-linejoin="miter"/></svg>
<div class="a" style="left:0px;top:174px;width:2654px;height:98px;background:#fff"></div>
<svg class="a" style="left:29px;top:206px" width="38" height="38" viewBox="0 0 38 38"><circle cx="16.5" cy="16" r="11.2" fill="none" stroke="#8f8f8f" stroke-width="2.6"/><path d="M24.5 24 L31.5 31" stroke="#8f8f8f" stroke-width="2.8" stroke-linecap="butt"/></svg>
<div class="t" style="left:76.0px;top:210.4px;font-size:26px;line-height:26px;color:#8a8a8a;font-weight:400;-webkit-text-stroke:0.5px #8a8a8a;">Search...</div>
<div class="a" style="left:830px;top:226px;width:96px;height:46px;background:#ebf4fd"></div>
<div class="a" style="left:830px;top:222px;width:98px;height:4px;background:#2f66ad"></div>
<div class="a" style="left:734px;top:226px;width:2px;height:46px;background:#e6e6e6"></div>
<div class="a" style="left:830px;top:226px;width:2px;height:46px;background:#e6e6e6"></div>
<div class="a" style="left:926px;top:226px;width:2px;height:46px;background:#e6e6e6"></div>
<div class="a" style="left:1022px;top:226px;width:2px;height:46px;background:#e6e6e6"></div>
<div class="a" style="left:1118px;top:226px;width:2px;height:46px;background:#e6e6e6"></div>
<div class="a" style="left:1214px;top:226px;width:2px;height:46px;background:#e6e6e6"></div>
<div class="a" style="left:1406px;top:226px;width:2px;height:46px;background:#e6e6e6"></div>
<div class="a" style="left:1502px;top:226px;width:2px;height:46px;background:#e6e6e6"></div>
<div class="a" style="left:1598px;top:226px;width:2px;height:46px;background:#e6e6e6"></div>
<div class="a" style="left:1694px;top:226px;width:2px;height:46px;background:#e6e6e6"></div>
<div class="a" style="left:1790px;top:226px;width:2px;height:46px;background:#e6e6e6"></div>
<div class="a" style="left:1886px;top:226px;width:2px;height:46px;background:#e6e6e6"></div>
<div class="a" style="left:2078px;top:226px;width:2px;height:46px;background:#e6e6e6"></div>
<div class="a" style="left:2174px;top:226px;width:2px;height:46px;background:#e6e6e6"></div>
<div class="a" style="left:2270px;top:226px;width:2px;height:46px;background:#e6e6e6"></div>
<div class="a" style="left:2366px;top:226px;width:2px;height:46px;background:#e6e6e6"></div>
<div class="a" style="left:2462px;top:226px;width:2px;height:46px;background:#e6e6e6"></div>
<div class="a" style="left:2558px;top:226px;width:2px;height:46px;background:#e6e6e6"></div>
<div class="a" style="left:638px;top:174px;width:2px;height:98px;background:#c9c9c9"></div>
<div class="a" style="left:640px;top:174px;width:34px;height:42px;background:#f3f3f3;border-bottom-right-radius:7px"></div>
<div class="t" style="left:357.0px;width:600px;text-align:center;top:186.2px;font-size:21.5px;line-height:21.5px;color:#9a9a9a;font-weight:400;">2</div>
<div class="t" style="left:674.0px;width:600px;text-align:center;top:186.8px;font-size:25px;line-height:25px;color:#333;font-weight:700;">Jan</div>
<div class="a" style="left:1310px;top:174px;width:2px;height:98px;background:#c9c9c9"></div>
<div class="a" style="left:1312px;top:174px;width:34px;height:42px;background:#f3f3f3;border-bottom-right-radius:7px"></div>
<div class="t" style="left:1029.0px;width:600px;text-align:center;top:186.2px;font-size:21.5px;line-height:21.5px;color:#9a9a9a;font-weight:400;">3</div>
<div class="t" style="left:1346.0px;width:600px;text-align:center;top:186.8px;font-size:25px;line-height:25px;color:#777;font-weight:400;-webkit-text-stroke:0.3px #777;">Jan</div>
<div class="a" style="left:1982px;top:174px;width:2px;height:98px;background:#c9c9c9"></div>
<div class="a" style="left:1984px;top:174px;width:34px;height:42px;background:#f3f3f3;border-bottom-right-radius:7px"></div>
<div class="t" style="left:1701.0px;width:600px;text-align:center;top:186.2px;font-size:21.5px;line-height:21.5px;color:#9a9a9a;font-weight:400;">4</div>
<div class="t" style="left:2018.0px;width:600px;text-align:center;top:186.8px;font-size:25px;line-height:25px;color:#777;font-weight:400;-webkit-text-stroke:0.3px #777;">Jan</div>
<div class="t" style="left:387.0px;width:600px;text-align:center;top:238.2px;font-size:21.5px;line-height:21.5px;color:#7a7a7a;font-weight:400;-webkit-text-stroke:0.35px #7a7a7a;">8</div>
<div class="t" style="left:483.0px;width:600px;text-align:center;top:238.2px;font-size:21.5px;line-height:21.5px;color:#7a7a7a;font-weight:400;-webkit-text-stroke:0.35px #7a7a7a;">9</div>
<div class="t" style="left:579.0px;width:600px;text-align:center;top:237.3px;font-size:22px;line-height:22px;color:#2f62a8;font-weight:700;">10</div>
<div class="t" style="left:675.0px;width:600px;text-align:center;top:238.2px;font-size:21.5px;line-height:21.5px;color:#7a7a7a;font-weight:400;-webkit-text-stroke:0.35px #7a7a7a;">11</div>
<div class="t" style="left:771.0px;width:600px;text-align:center;top:238.2px;font-size:21.5px;line-height:21.5px;color:#7a7a7a;font-weight:400;-webkit-text-stroke:0.35px #7a7a7a;">12</div>
<div class="t" style="left:867.0px;width:600px;text-align:center;top:238.2px;font-size:21.5px;line-height:21.5px;color:#7a7a7a;font-weight:400;-webkit-text-stroke:0.35px #7a7a7a;">13</div>
<div class="t" style="left:963.0px;width:600px;text-align:center;top:238.2px;font-size:21.5px;line-height:21.5px;color:#7a7a7a;font-weight:400;-webkit-text-stroke:0.35px #7a7a7a;">14</div>
<div class="t" style="left:1059.0px;width:600px;text-align:center;top:238.2px;font-size:21.5px;line-height:21.5px;color:#7a7a7a;font-weight:400;-webkit-text-stroke:0.35px #7a7a7a;">15</div>
<div class="t" style="left:1155.0px;width:600px;text-align:center;top:238.2px;font-size:21.5px;line-height:21.5px;color:#7a7a7a;font-weight:400;-webkit-text-stroke:0.35px #7a7a7a;">16</div>
<div class="t" style="left:1251.0px;width:600px;text-align:center;top:238.2px;font-size:21.5px;line-height:21.5px;color:#7a7a7a;font-weight:400;-webkit-text-stroke:0.35px #7a7a7a;">17</div>
<div class="t" style="left:1347.0px;width:600px;text-align:center;top:238.2px;font-size:21.5px;line-height:21.5px;color:#7a7a7a;font-weight:400;-webkit-text-stroke:0.35px #7a7a7a;">18</div>
<div class="t" style="left:1443.0px;width:600px;text-align:center;top:238.2px;font-size:21.5px;line-height:21.5px;color:#7a7a7a;font-weight:400;-webkit-text-stroke:0.35px #7a7a7a;">19</div>
<div class="t" style="left:1539.0px;width:600px;text-align:center;top:238.2px;font-size:21.5px;line-height:21.5px;color:#7a7a7a;font-weight:400;-webkit-text-stroke:0.35px #7a7a7a;">20</div>
<div class="t" style="left:1635.0px;width:600px;text-align:center;top:238.2px;font-size:21.5px;line-height:21.5px;color:#7a7a7a;font-weight:400;-webkit-text-stroke:0.35px #7a7a7a;">21</div>
<div class="t" style="left:1731.0px;width:600px;text-align:center;top:238.2px;font-size:21.5px;line-height:21.5px;color:#7a7a7a;font-weight:400;-webkit-text-stroke:0.35px #7a7a7a;">22</div>
<div class="t" style="left:1827.0px;width:600px;text-align:center;top:238.2px;font-size:21.5px;line-height:21.5px;color:#7a7a7a;font-weight:400;-webkit-text-stroke:0.35px #7a7a7a;">23</div>
<div class="t" style="left:1923.0px;width:600px;text-align:center;top:238.2px;font-size:21.5px;line-height:21.5px;color:#7a7a7a;font-weight:400;-webkit-text-stroke:0.35px #7a7a7a;">24</div>
<div class="t" style="left:2019.0px;width:600px;text-align:center;top:238.2px;font-size:21.5px;line-height:21.5px;color:#7a7a7a;font-weight:400;-webkit-text-stroke:0.35px #7a7a7a;">25</div>
<div class="t" style="left:2115.0px;width:600px;text-align:center;top:238.2px;font-size:21.5px;line-height:21.5px;color:#7a7a7a;font-weight:400;-webkit-text-stroke:0.35px #7a7a7a;">26</div>
<div class="t" style="left:2211.0px;width:600px;text-align:center;top:238.2px;font-size:21.5px;line-height:21.5px;color:#7a7a7a;font-weight:400;-webkit-text-stroke:0.35px #7a7a7a;">27</div>
<div class="t" style="left:2307.0px;width:600px;text-align:center;top:238.2px;font-size:21.5px;line-height:21.5px;color:#7a7a7a;font-weight:400;-webkit-text-stroke:0.35px #7a7a7a;">28</div>
<div class="a" style="left:638px;top:172px;width:674px;height:6px;background:#3068ac"></div>
<div class="a" style="left:640px;top:178px;width:34px;height:1px;background:#fff"></div>
<div class="a" style="left:0px;top:272px;width:2654px;height:2px;background:#b8b8b8"></div>
<div class="a" style="left:0px;top:90px;width:2654px;height:82px;background:linear-gradient(#f1f1f1,#e3e3e3)"></div>
<div class="a" style="left:0px;top:172px;width:638px;height:2px;background:#a9a9a9"></div>
<div class="a" style="left:1312px;top:172px;width:1342px;height:2px;background:#a9a9a9"></div>
<div class="a" style="left:638px;top:90px;width:2px;height:82px;background:#a5a5a5"></div>
<div class="a" style="left:24px;top:102px;width:591px;height:57px;border:2px solid #ababab;border-radius:7px;overflow:hidden;background:linear-gradient(#fdfdfd,#ececec)"><div class="a" style="left:293px;top:0;width:296px;height:53px;background:linear-gradient(#d9d9d9,#e2e2e2);box-shadow:inset 0 2px 4px rgba(0,0,0,0.12)"></div><div class="a" style="left:292px;top:0;width:2px;height:53px;background:#ababab"></div></div>
<div class="t" style="left:-128.5px;width:600px;text-align:center;top:117.2px;font-size:27.5px;line-height:27.5px;color:#666;font-weight:400;-webkit-text-stroke:0.7px #666;">Projects</div>
<div class="t" style="left:165.5px;width:600px;text-align:center;top:117.2px;font-size:27.5px;line-height:27.5px;color:#666;font-weight:400;-webkit-text-stroke:0.7px #666;">Team</div>
<div class="a" style="left:664px;top:102px;width:77px;height:57px;border:2px solid #b3b3b3;border-radius:7px;background:linear-gradient(#fdfdfd,#ececec)"></div>
<svg class="a" style="left:690px;top:118px" width="28" height="30" viewBox="0 0 28 30"><path d="M4 5 L14 13 L24 5 M4 15 L14 23 L24 15" fill="none" stroke="#666" stroke-width="3"/></svg>
<div class="a" style="left:759px;top:102px;width:283px;height:57px;border:2px solid #b3b3b3;border-radius:7px;background:linear-gradient(#fdfdfd,#ececec)"></div>
<div class="t" style="left:782.0px;top:116.5px;font-size:28.2px;line-height:28.2px;color:#666;font-weight:400;-webkit-text-stroke:0.7px #666;">Daily Availability</div>
<svg class="a" style="left:998.1px;top:124.1px" width="25.8" height="17.8" viewBox="998.1 124.1 25.8 17.8"><path d="M1002.5,128.5 L1011,137.5 L1019.5,128.5" fill="none" stroke="#666" stroke-width="2.4" stroke-linecap="square" stroke-linejoin="miter"/></svg>
<div class="a" style="left:2330px;top:102px;width:300px;height:57px;border:2px solid #adadad;border-radius:7px;overflow:hidden;background:linear-gradient(#d9d9d9,#e3e3e3)"><div class="a" style="left:229px;top:0;width:69px;height:53px;background:linear-gradient(#fdfdfd,#ececec)"></div><div class="a" style="left:229px;top:0;width:2px;height:53px;background:#adadad"></div></div>
<div class="t" style="left:2411.0px;top:117.3px;font-size:27.3px;line-height:27.3px;color:#666;font-weight:400;-webkit-text-stroke:0.7px #666;">This Week</div>
<svg class="a" style="left:2583px;top:114px" width="24" height="34" viewBox="0 0 24 34"><path d="M5 4 L17 17 L5 30" fill="none" stroke="#777" stroke-width="3"/></svg>
<div class="a" style="left:0px;top:0px;width:2654px;height:90px;background:#323232"></div>
<div class="a" style="left:0px;top:89px;width:2654px;height:1px;background:#262626"></div>
<div class="a" style="left:0px;top:90px;width:2654px;height:1px;background:#f8f8f8"></div>
<div class="t" style="left:28.0px;top:27.5px;font-size:31.2px;line-height:31.2px;color:#fff;font-weight:400;-webkit-text-stroke:0.95px #fff;">Schedule</div>
<div class="t" style="left:218.0px;top:27.5px;font-size:31.2px;line-height:31.2px;color:#fff;font-weight:400;-webkit-text-stroke:0.95px #fff;">Export</div>
<div class="t" style="left:367.0px;top:27.3px;font-size:31.4px;line-height:31.4px;color:#fff;font-weight:400;-webkit-text-stroke:0.95px #fff;">Manage</div>
<svg class="a" style="left:493.1px;top:37.6px" width="23.8" height="16.8" viewBox="493.1 37.6 23.8 16.8"><path d="M497.5,42.0 L505,50.0 L512.5,42.0" fill="none" stroke="#9a9a9a" stroke-width="2.4" stroke-linecap="square" stroke-linejoin="miter"/></svg>
<div class="t" style="left:2091.0px;top:30.8px;font-size:25.5px;line-height:25.5px;color:#c9c9c9;font-weight:400;-webkit-text-stroke:0.75px #c9c9c9;">Help</div>
<div class="t" style="left:2193.0px;top:30.8px;font-size:25.5px;line-height:25.5px;color:#c9c9c9;font-weight:400;-webkit-text-stroke:0.75px #c9c9c9;">Settings</div>
<div class="a" style="left:2312px;top:0px;width:84px;height:90px;background:#1c1c1c"></div>
<svg class="a" style="left:0;top:0" width="2654" height="90" viewBox="0 0 2654 90"><path d="M2338 60 L2370 60 C2370 53.5 2366.5 51.5 2360.5 50 L2359.5 47.5 C2362 45.5 2363.2 41.5 2363.2 37 C2363.2 31 2359.5 27.7 2354 27.7 C2348.5 27.7 2344.8 31 2344.8 37 C2344.8 41.5 2346 45.5 2348.5 47.5 L2347.5 50 C2341.5 51.5 2338 53.5 2338 60 Z" fill="#fff"/></svg>
<svg class="a" style="left:2420px;top:14px;border-radius:4px;overflow:hidden" width="62" height="62" viewBox="0 0 104 104"><rect width="104" height="104" fill="#f4f4f4"/><path d="M0 104 L0 94 C12 88 26 84 36 84 L68 84 C80 84 94 88 104 94 L104 104 Z" fill="#dcdcde"/><path d="M40 76 L64 76 L62 90 L42 90 Z" fill="#c89a84"/><ellipse cx="52" cy="48" rx="21" ry="30" fill="#d4a088"/><path d="M30 40 C28 20 38 8 52 8 C68 8 78 18 76 38 C72 26 64 20 52 20 C42 20 34 28 30 40 Z" fill="#2c2420"/><path d="M31 50 C32 72 42 82 52 82 C62 82 72 72 73 50 C70 62 64 64 52 64 C40 64 34 62 31 50 Z" fill="#3a2c24"/><circle cx="43" cy="44" r="1.6" fill="#3a2a22"/><circle cx="61" cy="44" r="1.6" fill="#3a2a22"/></svg>
<div class="t" style="left:2499.0px;top:30.4px;font-size:26px;line-height:26px;color:#c9c9c9;font-weight:400;-webkit-text-stroke:0.75px #c9c9c9;">Matthew</div>
<svg class="a" style="left:2610.1px;top:37.6px" width="23.8" height="16.8" viewBox="2610.1 37.6 23.8 16.8"><path d="M2614.5,42.0 L2622,50.0 L2629.5,42.0" fill="none" stroke="#9a9a9a" stroke-width="2.4" stroke-linecap="square" stroke-linejoin="miter"/></svg>
<div class="a" style="left:2022px;top:100px;width:374px;height:466px;border-radius:9px;background:#fff;box-shadow:0 0 0 1px rgba(0,0,0,0.18),0 3px 14px rgba(0,0,0,0.28);overflow:hidden"><div class="a" style="left:0;top:273px;width:374px;height:2px;background:#c8c8c8"></div><div class="a" style="left:0;top:275px;width:374px;height:191px;background:#f3f3f3"></div></div>
<svg class="a" style="left:2334px;top:78px" width="46" height="26" viewBox="0 0 46 26"><path d="M2 23 L22 2.5 L42 23" fill="#fff" stroke="rgba(0,0,0,0.22)" stroke-width="1.2"/><rect x="0" y="22" width="46" height="4" fill="#fff"/></svg>
<svg class="a" style="left:2047px;top:124px;border-radius:5px;overflow:hidden" width="64" height="64" viewBox="0 0 104 104"><rect width="104" height="104" fill="#f2f2f2"/><path d="M14 100 C4 70 12 30 28 14 C42 2 66 2 80 16 C96 32 100 70 92 100 Z" fill="#2a2020"/><path d="M0 104 L4 96 C14 92 26 90 34 90 L70 90 C80 90 92 92 100 96 L104 104 Z" fill="#1a1414"/><path d="M38 78 L66 78 L66 104 L38 104 Z" fill="#e0b09c"/><ellipse cx="52" cy="48" rx="20" ry="28" fill="#eab8a2"/><path d="M30 44 C30 22 42 14 54 14 C66 14 76 24 76 44 C72 28 62 22 54 22 C44 22 36 30 30 44 Z" fill="#2a2020"/><rect x="35.0" y="37.5" width="14" height="9" rx="3" fill="none" stroke="#3a3030" stroke-width="2.2"/><rect x="55.0" y="37.5" width="14" height="9" rx="3" fill="none" stroke="#3a3030" stroke-width="2.2"/><path d="M49.0 41 L55.0 41" stroke="#3a3030" stroke-width="2.2"/><circle cx="42" cy="42" r="1.6" fill="#3a2a22"/><circle cx="62" cy="42" r="1.6" fill="#3a2a22"/><path d="M44.0 58 Q52 65 60.0 58 Z" fill="#fff" stroke="#a0504a" stroke-width="1"/></svg>
<svg class="a" style="left:2047px;top:205px;border-radius:5px;overflow:hidden" width="64" height="64" viewBox="0 0 104 104"><rect width="104" height="104" fill="#f2f2f2"/><path d="M12 104 C8 70 12 30 26 14 C40 0 70 0 82 16 C96 34 94 70 92 104 Z" fill="#2f2727"/><path d="M0 98 C6 92 14 90 20 90 L20 104 L0 104 Z M84 88 C94 88 100 92 104 96 L104 104 L84 104 Z" fill="#1e1a1a"/><path d="M40 76 L64 76 L62 104 L42 104 Z" fill="#9a6048"/><ellipse cx="52" cy="48" rx="23" ry="30" fill="#ac6e50"/><path d="M28 46 C28 22 42 14 56 14 C70 14 78 26 78 46 C74 28 64 20 54 20 C42 20 32 30 28 46 Z" fill="#2f2727"/><rect x="32.0" y="37.0" width="16" height="10" rx="3" fill="none" stroke="#5a5058" stroke-width="2.4"/><rect x="54.0" y="37.0" width="16" height="10" rx="3" fill="none" stroke="#5a5058" stroke-width="2.4"/><path d="M48.0 41 L54.0 41" stroke="#5a5058" stroke-width="2.4"/><circle cx="40" cy="42" r="1.8" fill="#3a2a22"/><circle cx="62" cy="42" r="1.8" fill="#3a2a22"/><path d="M41.0 58 Q51 65 61.0 58 Z" fill="#fff" stroke="#a0504a" stroke-width="1"/></svg>
<svg class="a" style="left:2047px;top:287px;border-radius:5px;overflow:hidden" width="64" height="64" viewBox="0 0 104 104"><rect width="104" height="104" fill="#f4f4f4"/><path d="M0 104 L2 92 C14 84 28 80 38 78 L66 78 C78 80 92 84 102 92 L104 104 Z" fill="#e3dff0"/><path d="M42 70 L62 70 L64 82 L52 92 L40 82 Z" fill="#e2b49c"/><path d="M30 40 C28 20 40 8 54 8 C68 8 78 18 78 36 C78 44 76 50 74 54 L32 54 Z" fill="#2a2320"/><ellipse cx="52" cy="48" rx="20" ry="28" fill="#e8bea6"/><path d="M32 40 C32 22 42 14 54 14 C66 14 74 22 74 38 C70 26 62 20 54 20 C44 20 36 28 32 40 Z" fill="#2a2320"/><path d="M42 60 Q52 56 62 60 L60 63 Q52 60 44 63 Z" fill="#4a3028"/><path d="M46 68 Q52 76 58 68 L58 72 Q52 78 46 72 Z" fill="#4a3028"/><circle cx="43" cy="44" r="1.6" fill="#3a2a22"/><circle cx="61" cy="44" r="1.6" fill="#3a2a22"/></svg>
<div class="t" style="left:2130.0px;top:143.7px;font-size:26.2px;line-height:26.2px;color:#3a3a3a;font-weight:400;-webkit-text-stroke:0.6px #3a3a3a;">Alanna Rowan</div>
<div class="t" style="left:2130.0px;top:224.4px;font-size:26.6px;line-height:26.6px;color:#3a3a3a;font-weight:400;-webkit-text-stroke:0.6px #3a3a3a;">Cynthia Chand</div>
<div class="t" style="left:2130.0px;top:306.6px;font-size:26.4px;line-height:26.4px;color:#3a3a3a;font-weight:400;-webkit-text-stroke:0.6px #3a3a3a;">Jae Kim</div>
<div class="t" style="left:2048.0px;top:405.8px;font-size:24.4px;line-height:24.4px;color:#666;font-weight:700;">Recently Online</div>
<div class="t" style="left:2048.0px;top:459.2px;font-size:25.6px;line-height:25.6px;color:#666;font-weight:400;-webkit-text-stroke:0.6px #666;">Curran Boomer</div>
<div class="t" style="left:2241.0px;top:460.1px;font-size:24.6px;line-height:24.6px;color:#aaa;font-weight:400;-webkit-text-stroke:0.5px #aaa;">18h ago</div>
<div class="t" style="left:2048.0px;top:503.7px;font-size:25.6px;line-height:25.6px;color:#666;font-weight:400;-webkit-text-stroke:0.6px #666;">Meghan Purvis</div>
<div class="t" style="left:2233.0px;top:503.7px;font-size:25.6px;line-height:25.6px;color:#aaa;font-weight:400;-webkit-text-stroke:0.5px #aaa;">2d ago</div>
</body></html>
